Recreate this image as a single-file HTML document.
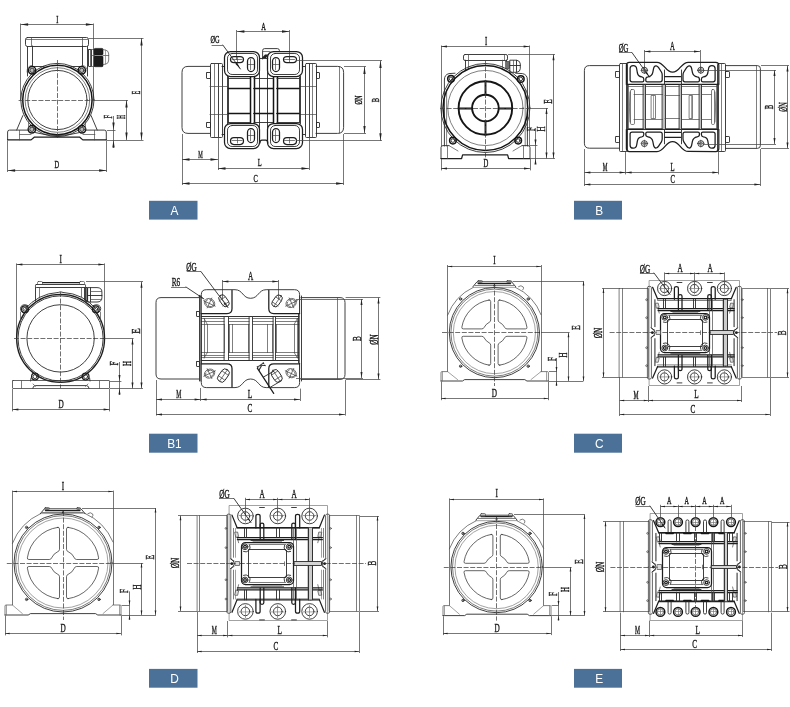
<!DOCTYPE html>
<html><head><meta charset="utf-8"><title>Dimensions</title>
<style>
html,body{margin:0;padding:0;background:#fff;}
body{width:790px;height:707px;overflow:hidden;}
svg{display:block;}
.k{fill:none;stroke:#2a2a2a;stroke-width:0.9;stroke-linecap:round;stroke-linejoin:round}
.K{fill:none;stroke:#151515;stroke-width:1.5;stroke-linecap:round;stroke-linejoin:round}
.w{fill:none;stroke:#333;stroke-width:0.75;stroke-linecap:round;stroke-linejoin:round}
.t{fill:none;stroke:#484848;stroke-width:0.7;stroke-linecap:round;stroke-linejoin:round}
.g{fill:none;stroke:#707070;stroke-width:0.65;stroke-linecap:round;stroke-linejoin:round}
.d{fill:none;stroke:#4a4a4a;stroke-width:0.75}
.c{fill:none;stroke:#404040;stroke-width:0.75;stroke-dasharray:5 1.6}
.af{fill:#222;stroke:none}
.bf{fill:#222;stroke:none}
.gf{fill:#bbb;stroke:#444;stroke-width:0.5}
.m{fill:none;stroke:#1e1e1e;stroke-width:1.25;stroke-linecap:round;stroke-linejoin:round}
.tx{font-family:"Liberation Serif",serif;fill:#1a1a1a;stroke:#1a1a1a;stroke-width:0.4}
</style></head><body>
<svg width="790" height="707" viewBox="0 0 790 707">
<rect width="790" height="707" fill="#fff"/>
<rect x="149" y="200.8" width="48.5" height="18.8" fill="#4b7198"/>
<rect x="574" y="200.8" width="48" height="18.8" fill="#4b7198"/>
<rect x="149" y="433.7" width="48.5" height="19" fill="#4b7198"/>
<rect x="574" y="433.7" width="48" height="19" fill="#4b7198"/>
<rect x="149" y="668.9" width="48.5" height="18.8" fill="#4b7198"/>
<rect x="574" y="668.9" width="48" height="18.8" fill="#4b7198"/>
<g style="filter:grayscale(1)">
<text transform="translate(174.45,210.5) scale(0.9,1)" font-family="'Liberation Sans',sans-serif" font-size="13.2" fill="#fff" text-anchor="middle" dominant-baseline="central">A</text>
<text transform="translate(599.2,210.5) scale(0.9,1)" font-family="'Liberation Sans',sans-serif" font-size="13.2" fill="#fff" text-anchor="middle" dominant-baseline="central">B</text>
<text transform="translate(174.45,443.5) scale(0.9,1)" font-family="'Liberation Sans',sans-serif" font-size="13.2" fill="#fff" text-anchor="middle" dominant-baseline="central">B1</text>
<text transform="translate(599.2,443.5) scale(0.9,1)" font-family="'Liberation Sans',sans-serif" font-size="13.2" fill="#fff" text-anchor="middle" dominant-baseline="central">C</text>
<text transform="translate(174.45,678.6) scale(0.9,1)" font-family="'Liberation Sans',sans-serif" font-size="13.2" fill="#fff" text-anchor="middle" dominant-baseline="central">D</text>
<text transform="translate(599.2,678.6) scale(0.9,1)" font-family="'Liberation Sans',sans-serif" font-size="13.2" fill="#fff" text-anchor="middle" dominant-baseline="central">E</text>
<g id="pA">
<line class="d" x1="20.6" y1="24.5" x2="93.4" y2="24.5" />
<path class="af" d="M20.6,24.5 L28.1,23.35 L28.1,25.65 Z"/>
<path class="af" d="M93.4,24.5 L85.9,25.65 L85.9,23.35 Z"/>
<text class="tx" transform="translate(57.2,19.3) scale(0.58,1)" font-size="11" text-anchor="middle" dominant-baseline="central">I</text>
<line class="d" x1="20.5" y1="23.5" x2="20.5" y2="100" />
<line class="d" x1="93.5" y1="23.5" x2="93.5" y2="100" />
<rect class="k" x="25.5" y="37.5" width="63" height="9" rx="2" />
<line class="t" x1="26" y1="39.5" x2="87.6" y2="39.5" />
<line class="t" x1="31.5" y1="38" x2="31.5" y2="46.4" />
<line class="t" x1="82.5" y1="38" x2="82.5" y2="46.4" />
<line class="k" x1="27.5" y1="46.5" x2="27.5" y2="76" />
<line class="k" x1="87.5" y1="46.5" x2="87.5" y2="76" />
<line class="k" x1="32.5" y1="46" x2="32.5" y2="66" />
<line class="k" x1="82.5" y1="46" x2="82.5" y2="66" />
<line class="k" x1="32" y1="66.5" x2="44" y2="66.5" />
<line class="k" x1="71" y1="66.5" x2="82" y2="66.5" />
<rect class="k" x="88.5" y="49.5" width="3" height="17" rx="0.4" />
<line class="t" x1="90.5" y1="49.4" x2="90.5" y2="66.4" />
<rect class="t" x="91.5" y="49.5" width="3" height="17" rx="0" />
<line class="t" x1="91.6" y1="55.5" x2="94.1" y2="55.5" />
<rect x="94.1" y="48.4" width="8.9" height="6.5" rx="1" fill="#1c1c1c" stroke="#111" stroke-width="0.6"/>
<rect x="94.1" y="56" width="8.9" height="10.7" rx="1" fill="#1c1c1c" stroke="#111" stroke-width="0.6"/>
<path class="t" d="M103,49.6 L106,50.2 Q108.7,51 108.7,54 L108.7,60 Q108.7,63.4 106,64 L103,64.6" />
<line class="t" x1="103" y1="55.5" x2="108.7" y2="55.5" />
<line class="g" x1="105.5" y1="50.2" x2="105.5" y2="64" />
<circle class="k" cx="57.4" cy="100" r="36.6" />
<circle class="K" cx="57.4" cy="100" r="34.7" />
<circle class="t" cx="57.4" cy="100" r="32.3" />
<circle class="k" cx="57.4" cy="100" r="29.6" />
<line class="c" x1="18.6" y1="100.5" x2="94" y2="100.5" />
<line class="d" x1="94" y1="100.5" x2="128" y2="100.5" />
<line class="c" x1="57.5" y1="60" x2="57.5" y2="138" />
<circle class="K" cx="32.1" cy="70.3" r="3.7" />
<circle class="k" cx="32.1" cy="70.3" r="2.2" style="fill:#bbb"/>
<circle class="K" cx="81.8" cy="70.3" r="3.7" />
<circle class="k" cx="81.8" cy="70.3" r="2.2" style="fill:#bbb"/>
<circle class="K" cx="31.9" cy="129.3" r="3.7" />
<circle class="k" cx="31.9" cy="129.3" r="2.2" style="fill:#bbb"/>
<circle class="K" cx="82" cy="129.3" r="3.7" />
<circle class="k" cx="82" cy="129.3" r="2.2" style="fill:#bbb"/>
<path class="t" d="M27,72 Q27,65.5 32,65.5" />
<path class="t" d="M87.4,72 Q87.4,65.5 82,65.5" />
<line class="k" x1="22.8" y1="115.6" x2="16.7" y2="130" />
<line class="t" x1="28.5" y1="121.7" x2="28.5" y2="129.3" />
<line class="k" x1="91.1" y1="115.6" x2="97.2" y2="130" />
<line class="t" x1="85.5" y1="121.7" x2="85.5" y2="129.3" />
<path class="k" d="M7.6,139.9 L7.6,132 Q7.6,130.1 9.6,130.1 L27.6,130.1 M86.4,130.1 L104.3,130.1 Q106.3,130.1 106.3,132 L106.3,139.9" />
<path class="m" d="M7.6,139.9 L31.1,139.9 L34.2,137.2 L79.8,137.2 L82.8,139.9 L106.3,139.9" />
<line class="t" x1="19.5" y1="130.4" x2="19.5" y2="139.9" />
<line class="t" x1="94.5" y1="130.4" x2="94.5" y2="139.9" />
<line class="t" x1="19.7" y1="134.5" x2="31" y2="134.5" />
<line class="t" x1="83" y1="134.5" x2="94.9" y2="134.5" />
<path class="k" d="M35.4,132.6 Q57.4,138.6 79.4,132.6" />
<line class="d" x1="7.5" y1="141" x2="7.5" y2="172" />
<line class="d" x1="106.5" y1="141" x2="106.5" y2="172" />
<line class="d" x1="7.6" y1="170.5" x2="106.6" y2="170.5" />
<path class="af" d="M7.6,170.5 L15.1,169.35 L15.1,171.65 Z"/>
<path class="af" d="M106.6,170.5 L99.1,171.65 L99.1,169.35 Z"/>
<text class="tx" transform="translate(56.8,164.8) scale(0.58,1)" font-size="11" text-anchor="middle" dominant-baseline="central">D</text>
<line class="d" x1="89" y1="38.5" x2="143.5" y2="38.5" />
<line class="d" x1="107" y1="140.5" x2="143.5" y2="140.5" />
<line class="d" x1="107" y1="130.5" x2="115.5" y2="130.5" />
<line class="d" x1="141.5" y1="38" x2="141.5" y2="140" />
<path class="af" d="M141.5,38 L142.65,45.5 L140.35,45.5 Z"/>
<path class="af" d="M141.5,140 L140.35,132.5 L142.65,132.5 Z"/>
<text class="tx" transform="translate(136.6,92.6) rotate(-90) scale(0.5,1)" font-size="11.5" text-anchor="middle" dominant-baseline="central">E</text>
<line class="d" x1="126.5" y1="100" x2="126.5" y2="140" />
<path class="af" d="M126.5,100 L127.65,107.5 L125.35,107.5 Z"/>
<path class="af" d="M126.5,140 L125.35,132.5 L127.65,132.5 Z"/>
<text class="tx" transform="translate(121.4,116.8) rotate(-90) scale(0.5,1)" font-size="11.5" text-anchor="middle" dominant-baseline="central">H</text>
<line class="d" x1="113.5" y1="116" x2="113.5" y2="148" />
<path class="af" d="M113.5,130 L112.35,122.5 L114.65,122.5 Z"/>
<path class="af" d="M113.5,140 L114.65,147.5 L112.35,147.5 Z"/>
<text class="tx" transform="translate(108.2,116.8) rotate(-90) scale(0.55,1)" font-size="11.5" text-anchor="middle" dominant-baseline="central">F</text>
<line class="d" x1="236.9" y1="31.5" x2="289.5" y2="31.5" />
<path class="af" d="M236.9,31.5 L244.4,30.35 L244.4,32.65 Z"/>
<path class="af" d="M289.5,31.5 L282,32.65 L282,30.35 Z"/>
<text class="tx" transform="translate(263.6,26.4) scale(0.58,1)" font-size="11" text-anchor="middle" dominant-baseline="central">A</text>
<line class="d" x1="236.5" y1="30" x2="236.5" y2="60" />
<line class="d" x1="289.5" y1="30" x2="289.5" y2="60" />
<text class="tx" transform="translate(215,39.3) scale(0.58,1)" font-size="11" text-anchor="middle" dominant-baseline="central">ØG</text>
<line class="d" x1="211.6" y1="45.5" x2="222.8" y2="45.5" />
<line class="k" x1="222.8" y1="45" x2="240.4" y2="69" />
<path class="af" d="M240.6,69.2 L235.24,63.8 L237.11,62.45 Z"/>
<path class="k" d="M210,66.4 L188,66.4 Q182,66.4 182,72.4 L182,127.4 Q182,133.4 188,133.4 L210,133.4" />
<path class="k" d="M316,66.4 L337.6,66.4 Q343.6,66.4 343.6,72.4 L343.6,127.4 Q343.6,133.4 337.6,133.4 L316,133.4" />
<line class="t" x1="339.5" y1="66.8" x2="339.5" y2="133" />
<rect class="k" x="210.5" y="63.5" width="12" height="74" rx="1" />
<line class="k" x1="218.5" y1="64" x2="218.5" y2="136.6" />
<line class="k" x1="222" y1="66.5" x2="224.6" y2="66.5" />
<line class="k" x1="222" y1="134.5" x2="224.6" y2="134.5" />
<rect class="k" x="305.5" y="63.5" width="11" height="74" rx="1" />
<line class="k" x1="309.5" y1="64" x2="309.5" y2="136.6" />
<line class="k" x1="302.6" y1="66.5" x2="305" y2="66.5" />
<line class="k" x1="302.6" y1="134.5" x2="305" y2="134.5" />
<line class="t" x1="214.5" y1="64" x2="214.5" y2="137" />
<line class="t" x1="312.5" y1="64" x2="312.5" y2="137" />
<line class="t" x1="210" y1="86.5" x2="227" y2="86.5" />
<line class="t" x1="210" y1="114.5" x2="227" y2="114.5" />
<line class="t" x1="300" y1="86.5" x2="316" y2="86.5" />
<line class="t" x1="300" y1="114.5" x2="316" y2="114.5" />
<rect class="k" x="206.5" y="72.5" width="4" height="6" rx="0.5" />
<rect class="k" x="316.5" y="72.5" width="3" height="6" rx="0.5" />
<rect class="k" x="206.5" y="122.5" width="4" height="5" rx="0.5" />
<rect class="k" x="316.5" y="122.5" width="3" height="5" rx="0.5" />
<rect class="m" x="224.5" y="51.5" width="35" height="25" rx="6" />
<rect class="k" x="227.5" y="53.5" width="30" height="21" rx="4.6" />
<rect class="m" x="224.5" y="123.5" width="35" height="25" rx="6" />
<rect class="k" x="227.5" y="125.5" width="30" height="21" rx="4.6" />
<rect class="m" x="267.5" y="51.5" width="35" height="25" rx="6" />
<rect class="k" x="270.5" y="53.5" width="29" height="21" rx="4.6" />
<rect class="m" x="267.5" y="123.5" width="35" height="25" rx="6" />
<rect class="k" x="270.5" y="125.5" width="29" height="21" rx="4.6" />
<line class="k" x1="259.9" y1="58.5" x2="267.8" y2="58.5" />
<line class="k" x1="259.5" y1="70" x2="259.5" y2="129" />
<line class="k" x1="267.5" y1="70" x2="267.5" y2="129" />
<path class="k" d="M262.6,59 L262.6,50.6 Q262.6,48.6 264.6,48.6 L277.4,48.6 Q279.4,48.6 279.4,50.6 L279.4,51" />
<line class="t" x1="263" y1="51.5" x2="270" y2="51.5" />
<path class="bf" d="M261.8,58 L265,54.4 L268.4,54.4 L266,58 Z" />
<path class="m" d="M259.9,143 Q259.9,140 262,140 L265.6,140 Q267.8,140 267.8,143" />
<g >
<rect class="m" x="230.5" y="56.5" width="13" height="6" rx="3.4" />
<line class="t" x1="232.1" y1="59.5" x2="242.1" y2="59.5" />
<line class="t" x1="237.5" y1="57" x2="237.5" y2="61.8" />
</g>
<g >
<rect class="m" x="247.5" y="57.5" width="7" height="14" rx="3.8" />
<line class="t" x1="250.5" y1="59.3" x2="250.5" y2="69.7" />
<line class="t" x1="248" y1="64.5" x2="253.6" y2="64.5" />
</g>
<g >
<rect class="m" x="272.5" y="57.5" width="7" height="14" rx="3.8" />
<line class="t" x1="275.5" y1="59.3" x2="275.5" y2="69.7" />
<line class="t" x1="273" y1="64.5" x2="278.6" y2="64.5" />
</g>
<g >
<rect class="m" x="283.5" y="56.5" width="13" height="6" rx="3.4" />
<line class="t" x1="284.5" y1="59.5" x2="294.5" y2="59.5" />
<line class="t" x1="289.5" y1="57" x2="289.5" y2="61.8" />
</g>
<g >
<rect class="m" x="230.5" y="137.5" width="13" height="7" rx="3.4" />
<line class="t" x1="232.1" y1="140.5" x2="242.1" y2="140.5" />
<line class="t" x1="237.5" y1="138.2" x2="237.5" y2="143" />
</g>
<g >
<rect class="m" x="247.5" y="128.5" width="7" height="14" rx="3.8" />
<line class="t" x1="250.5" y1="130.3" x2="250.5" y2="140.7" />
<line class="t" x1="248" y1="135.5" x2="253.6" y2="135.5" />
</g>
<g >
<rect class="m" x="272.5" y="128.5" width="7" height="14" rx="3.8" />
<line class="t" x1="275.5" y1="130.3" x2="275.5" y2="140.7" />
<line class="t" x1="273" y1="135.5" x2="278.6" y2="135.5" />
</g>
<g >
<rect class="m" x="283.5" y="137.5" width="13" height="7" rx="3.4" />
<line class="t" x1="284.5" y1="140.5" x2="294.5" y2="140.5" />
<line class="t" x1="289.5" y1="138.2" x2="289.5" y2="143" />
</g>
<line class="k" x1="227.5" y1="76" x2="227.5" y2="123.6" />
<line class="k" x1="300.5" y1="76" x2="300.5" y2="123.6" />
<line class="k" x1="228.5" y1="77" x2="228.5" y2="123" />
<line class="K" x1="250.5" y1="77" x2="250.5" y2="123" />
<line class="K" x1="254.5" y1="77" x2="254.5" y2="123" />
<line class="K" x1="273.5" y1="77" x2="273.5" y2="123" />
<line class="K" x1="277.5" y1="77" x2="277.5" y2="123" />
<line class="k" x1="299.5" y1="77" x2="299.5" y2="123" />
<line class="k" x1="228.4" y1="78.5" x2="250" y2="78.5" />
<line class="k" x1="254" y1="78.5" x2="273" y2="78.5" />
<line class="k" x1="277" y1="78.5" x2="299" y2="78.5" />
<line class="k" x1="228.4" y1="88.5" x2="250" y2="88.5" />
<line class="k" x1="254" y1="88.5" x2="273" y2="88.5" />
<line class="k" x1="277" y1="88.5" x2="299" y2="88.5" />
<line class="k" x1="228.4" y1="113.5" x2="250" y2="113.5" />
<line class="k" x1="254" y1="113.5" x2="273" y2="113.5" />
<line class="k" x1="277" y1="113.5" x2="299" y2="113.5" />
<line class="k" x1="228.4" y1="122.5" x2="250" y2="122.5" />
<line class="k" x1="254" y1="122.5" x2="273" y2="122.5" />
<line class="k" x1="277" y1="122.5" x2="299" y2="122.5" />
<line class="K" x1="228.4" y1="88.5" x2="250" y2="88.5" />
<line class="K" x1="254" y1="88.5" x2="273" y2="88.5" />
<line class="K" x1="277" y1="88.5" x2="299" y2="88.5" />
<line class="K" x1="228.4" y1="113.5" x2="250" y2="113.5" />
<line class="K" x1="254" y1="113.5" x2="273" y2="113.5" />
<line class="K" x1="277" y1="113.5" x2="299" y2="113.5" />
<line class="d" x1="344" y1="66.5" x2="366" y2="66.5" />
<line class="d" x1="344" y1="133.5" x2="366" y2="133.5" />
<line class="d" x1="364.5" y1="66.4" x2="364.5" y2="133.4" />
<path class="af" d="M364.5,66.4 L365.65,73.9 L363.35,73.9 Z"/>
<path class="af" d="M364.5,133.4 L363.35,125.9 L365.65,125.9 Z"/>
<text class="tx" transform="translate(358.6,100) rotate(-90) scale(0.58,1)" font-size="11" text-anchor="middle" dominant-baseline="central">ØN</text>
<line class="d" x1="296" y1="60.5" x2="382" y2="60.5" />
<line class="d" x1="296" y1="140.5" x2="382" y2="140.5" />
<line class="d" x1="380.5" y1="60.6" x2="380.5" y2="140.8" />
<path class="af" d="M380.5,60.6 L381.65,68.1 L379.35,68.1 Z"/>
<path class="af" d="M380.5,140.8 L379.35,133.3 L381.65,133.3 Z"/>
<text class="tx" transform="translate(375,100) rotate(-90) scale(0.58,1)" font-size="11" text-anchor="middle" dominant-baseline="central">B</text>
<line class="d" x1="182.5" y1="134" x2="182.5" y2="185" />
<line class="d" x1="343.5" y1="134" x2="343.5" y2="185" />
<line class="d" x1="218.5" y1="137.5" x2="218.5" y2="170" />
<line class="d" x1="309.5" y1="137.5" x2="309.5" y2="170" />
<line class="d" x1="182" y1="159.5" x2="218" y2="159.5" />
<path class="af" d="M182,159.5 L189.5,158.35 L189.5,160.65 Z"/>
<path class="af" d="M218,159.5 L210.5,160.65 L210.5,158.35 Z"/>
<text class="tx" transform="translate(200.4,154) scale(0.46,1)" font-size="11" text-anchor="middle" dominant-baseline="central">M</text>
<line class="d" x1="218" y1="168.5" x2="309" y2="168.5" />
<path class="af" d="M218,168.5 L225.5,167.35 L225.5,169.65 Z"/>
<path class="af" d="M309,168.5 L301.5,169.65 L301.5,167.35 Z"/>
<text class="tx" transform="translate(259.6,162.6) scale(0.58,1)" font-size="11" text-anchor="middle" dominant-baseline="central">L</text>
<line class="d" x1="182" y1="183.5" x2="343.6" y2="183.5" />
<path class="af" d="M182,183.5 L189.5,182.35 L189.5,184.65 Z"/>
<path class="af" d="M343.6,183.5 L336.1,184.65 L336.1,182.35 Z"/>
<text class="tx" transform="translate(255.6,178) scale(0.58,1)" font-size="11" text-anchor="middle" dominant-baseline="central">C</text>
</g>
<g id="pB">
<line class="d" x1="441" y1="46.5" x2="529.6" y2="46.5" />
<path class="af" d="M441,46.5 L447,45.5 L447,47.5 Z"/>
<path class="af" d="M529.6,46.5 L523.6,47.5 L523.6,45.5 Z"/>
<text class="tx" transform="translate(486,41) scale(0.58,1)" font-size="11.5" text-anchor="middle" dominant-baseline="central">I</text>
<line class="d" x1="441.5" y1="45.5" x2="441.5" y2="146" />
<line class="d" x1="529.5" y1="45.5" x2="529.5" y2="146" />
<rect class="k" x="463.5" y="54.5" width="44" height="6" rx="1.6" />
<line class="t" x1="468.5" y1="54.6" x2="468.5" y2="60" />
<line class="t" x1="504.5" y1="54.6" x2="504.5" y2="60" />
<line class="k" x1="465.5" y1="60.2" x2="465.5" y2="70.4" />
<line class="k" x1="506.5" y1="60.2" x2="506.5" y2="61.6" />
<line class="t" x1="468.5" y1="60.2" x2="468.5" y2="68" />
<line class="t" x1="502.5" y1="60.2" x2="502.5" y2="67.6" />
<rect class="t" x="505.5" y="61.5" width="4" height="7" rx="0.3" style="fill:#ccc"/>
<line class="t" x1="506.5" y1="61.8" x2="506.5" y2="68.4" />
<line class="t" x1="507.5" y1="61.8" x2="507.5" y2="68.4" />
<line class="t" x1="508.5" y1="61.8" x2="508.5" y2="68.4" />
<path class="k" d="M510.2,60.2 L516.8,60.2 Q520.3,61 520.3,64 L520.3,68.6 Q520.3,71.6 516.8,72.3 L510.2,72.3 Z" />
<line class="k" x1="510.2" y1="65.5" x2="520.3" y2="65.5" />
<line class="k" x1="516.5" y1="60.4" x2="516.5" y2="72.2" />
<line class="t" x1="513.5" y1="60.4" x2="513.5" y2="72.2" />
<path class="k" d="M444.4,146 L444.4,80 Q444.4,74.6 449,73.6 L455,73.2 M515.6,73.2 L522.6,73.6 Q527.4,74.6 527.4,80 L527.4,146" />
<path class="t" d="M446.6,146 L446.6,90 M525.2,146 L525.2,90" />
<circle class="k" cx="485.4" cy="108" r="44.5" />
<circle class="K" cx="485.4" cy="108" r="42.4" />
<circle class="t" cx="485.4" cy="108" r="37.6" />
<circle class="K" cx="485.4" cy="108" r="26.8" style="stroke-width:1.9"/>
<circle class="K" cx="485.4" cy="108" r="13.3" style="stroke-width:1.9"/>
<line class="K" x1="458.6" y1="108.5" x2="472.1" y2="108.5" style="stroke-width:1.9"/>
<line class="K" x1="498.7" y1="108.5" x2="512.2" y2="108.5" style="stroke-width:1.9"/>
<line class="K" x1="485.5" y1="81.2" x2="485.5" y2="94.7" style="stroke-width:1.9"/>
<line class="K" x1="485.5" y1="121.3" x2="485.5" y2="134.8" style="stroke-width:1.9"/>
<line class="c" x1="440" y1="108.5" x2="530" y2="108.5" />
<line class="d" x1="530" y1="108.5" x2="548" y2="108.5" />
<line class="c" x1="485.5" y1="60" x2="485.5" y2="158" />
<circle class="K" cx="451" cy="78.8" r="3.3" />
<circle class="k" cx="451" cy="78.8" r="1.8" />
<circle class="K" cx="520.8" cy="79" r="3.3" />
<circle class="k" cx="520.8" cy="79" r="1.8" />
<circle class="K" cx="452.9" cy="140.6" r="3.3" />
<circle class="k" cx="452.9" cy="140.6" r="1.8" />
<circle class="K" cx="518.2" cy="140.6" r="3.3" />
<circle class="k" cx="518.2" cy="140.6" r="1.8" />
<path class="k" d="M441,158.5 L441,147.6 Q441,145.6 443,145.6 L449,145.6 M522,145.6 L528,145.6 Q530,145.6 530,147.6 L530,158.5" />
<path class="m" d="M441,158.5 L461.6,158.5 L462.6,154.8 L507.6,154.8 L508.6,158.5 L530,158.5" />
<line class="t" x1="447.5" y1="146" x2="447.5" y2="158.5" />
<line class="t" x1="523.5" y1="146" x2="523.5" y2="158.5" />
<line class="t" x1="449" y1="145.6" x2="458" y2="151" />
<line class="t" x1="522" y1="145.6" x2="513" y2="151" />
<line class="d" x1="441.5" y1="159" x2="441.5" y2="170.4" />
<line class="d" x1="530.5" y1="159" x2="530.5" y2="170.4" />
<line class="d" x1="441" y1="168.5" x2="530" y2="168.5" />
<path class="af" d="M441,168.5 L447,167.5 L447,169.5 Z"/>
<path class="af" d="M530,168.5 L524,169.5 L524,167.5 Z"/>
<text class="tx" transform="translate(486,163.4) scale(0.58,1)" font-size="11.5" text-anchor="middle" dominant-baseline="central">D</text>
<line class="d" x1="508" y1="54.5" x2="555" y2="54.5" />
<line class="d" x1="530.6" y1="158.5" x2="555" y2="158.5" />
<line class="d" x1="530" y1="145.5" x2="537.4" y2="145.5" />
<line class="d" x1="553.5" y1="54.3" x2="553.5" y2="158.5" />
<path class="af" d="M553.5,54.3 L554.5,60.3 L552.5,60.3 Z"/>
<path class="af" d="M553.5,158.5 L552.5,152.5 L554.5,152.5 Z"/>
<text class="tx" transform="translate(548.2,101.4) rotate(-90) scale(0.64,1)" font-size="11.5" text-anchor="middle" dominant-baseline="central">E</text>
<line class="d" x1="546.5" y1="108" x2="546.5" y2="158.5" />
<path class="af" d="M546.5,108 L547.5,114 L545.5,114 Z"/>
<path class="af" d="M546.5,158.5 L545.5,152.5 L547.5,152.5 Z"/>
<text class="tx" transform="translate(541.2,129) rotate(-90) scale(0.62,1)" font-size="11.5" text-anchor="middle" dominant-baseline="central">H</text>
<line class="d" x1="535.5" y1="128" x2="535.5" y2="163" />
<path class="af" d="M535.5,145.6 L534.5,139.6 L536.5,139.6 Z"/>
<path class="af" d="M535.5,158.5 L536.5,164.5 L534.5,164.5 Z"/>
<text class="tx" transform="translate(531.2,129) rotate(-90) scale(0.68,1)" font-size="11.5" text-anchor="middle" dominant-baseline="central">F</text>
<line class="d" x1="644.4" y1="51.5" x2="700" y2="51.5" />
<path class="af" d="M644.4,51.5 L650.4,50.5 L650.4,52.5 Z"/>
<path class="af" d="M700,51.5 L694,52.5 L694,50.5 Z"/>
<text class="tx" transform="translate(672.4,46.6) scale(0.58,1)" font-size="11.5" text-anchor="middle" dominant-baseline="central">A</text>
<line class="d" x1="644.5" y1="50" x2="644.5" y2="70" />
<line class="d" x1="700.5" y1="50" x2="700.5" y2="70" />
<text class="tx" transform="translate(623.6,48.6) scale(0.58,1)" font-size="11.5" text-anchor="middle" dominant-baseline="central">ØG</text>
<line class="d" x1="619" y1="52.5" x2="632" y2="52.5" />
<line class="k" x1="632" y1="52.6" x2="649.4" y2="77" />
<path class="af" d="M649.4,77 L645.11,72.72 L646.73,71.56 Z"/>
<path class="k" d="M619,65.6 L589.4,65.6 Q584.4,65.6 584.4,70.6 L584.4,143.2 Q584.4,148.2 589.4,148.2 L619,148.2" />
<path class="k" d="M725.6,65.6 L757.4,65.6 Q760.4,65.6 760.4,68.6 L760.4,145.4 Q760.4,148.4 757.4,148.4 L725.6,148.4" />
<line class="t" x1="756.5" y1="66" x2="756.5" y2="148" />
<rect class="k" x="619.5" y="63.5" width="8" height="88" rx="1" />
<line class="t" x1="622.5" y1="63.4" x2="622.5" y2="150.6" />
<rect class="k" x="717.5" y="63.5" width="8" height="88" rx="1" />
<line class="t" x1="721.5" y1="63.4" x2="721.5" y2="150.6" />
<rect class="k" x="615.5" y="71.5" width="4" height="6" rx="0.6" />
<rect class="k" x="725.5" y="71.5" width="4" height="6" rx="0.6" />
<rect class="k" x="615.5" y="136.5" width="4" height="6" rx="0.6" />
<rect class="k" x="725.5" y="136.5" width="4" height="6" rx="0.6" />
<path class="m" d="M626.4,84.4 L626.4,65.3 Q626.4,62.3 629.4,62.3 L657,62.3 C664.5,62.3 665,72.2 672.6,72.2 C680.2,72.2 680.7,62.3 688.2,62.3 L715.8,62.3 Q718.8,62.3 718.8,65.3 L718.8,84.4 Z" />
<line class="m" x1="664.6" y1="76.5" x2="680.6" y2="76.5" />
<line class="m" x1="664.6" y1="81.5" x2="680.6" y2="81.5" />
<line class="k" x1="664.5" y1="70" x2="664.5" y2="84" />
<line class="k" x1="681.5" y1="70" x2="681.5" y2="84" />
<path class="m" d="M630.1,79.8 L630.1,68.6 Q630.1,65.6 633.2,65.6 Q636.4,65.6 636.7,69 L637.4,73 Q638.2,76.6 641.8,76.9 Q643.8,77.2 643.8,79.2 L643.8,80.4 Q643.8,81.8 642.4,81.8 L632.1,81.8 Q630.1,81.8 630.1,79.8 Z" />
<path class="m" d="M645.8,80.4 L645.8,79.2 Q645.8,77.2 648,76.9 Q652,76.2 652.8,72.4 L653.6,68.4 Q654.2,65.6 656.2,65.8 Q657.6,66 658.6,67.6 L661.4,72 Q662.2,73.2 662.2,75 L662.2,79.8 Q662.2,81.8 660.2,81.8 L647.2,81.8 Q645.8,81.8 645.8,80.4 Z" />
<circle class="k" cx="644.4" cy="70.2" r="3" />
<circle class="t" cx="644.4" cy="70.2" r="1.5" />
<line class="t" x1="641" y1="70.5" x2="647.8" y2="70.5" />
<line class="t" x1="644.5" y1="66.8" x2="644.5" y2="73.6" />
<g transform="translate(1345.2,0) scale(-1,1)">
<path class="m" d="M630.1,79.8 L630.1,68.6 Q630.1,65.6 633.2,65.6 Q636.4,65.6 636.7,69 L637.4,73 Q638.2,76.6 641.8,76.9 Q643.8,77.2 643.8,79.2 L643.8,80.4 Q643.8,81.8 642.4,81.8 L632.1,81.8 Q630.1,81.8 630.1,79.8 Z" />
<path class="m" d="M645.8,80.4 L645.8,79.2 Q645.8,77.2 648,76.9 Q652,76.2 652.8,72.4 L653.6,68.4 Q654.2,65.6 656.2,65.8 Q657.6,66 658.6,67.6 L661.4,72 Q662.2,73.2 662.2,75 L662.2,79.8 Q662.2,81.8 660.2,81.8 L647.2,81.8 Q645.8,81.8 645.8,80.4 Z" />
<circle class="k" cx="644.4" cy="70.2" r="3" />
<circle class="t" cx="644.4" cy="70.2" r="1.5" />
<line class="t" x1="641" y1="70.5" x2="647.8" y2="70.5" />
<line class="t" x1="644.5" y1="66.8" x2="644.5" y2="73.6" />
</g>
<g transform="translate(0,213.8) scale(1,-1)">
<path class="m" d="M626.4,84.4 L626.4,65.3 Q626.4,62.3 629.4,62.3 L657,62.3 C664.5,62.3 665,72.2 672.6,72.2 C680.2,72.2 680.7,62.3 688.2,62.3 L715.8,62.3 Q718.8,62.3 718.8,65.3 L718.8,84.4 Z" />
<line class="m" x1="664.6" y1="76.5" x2="680.6" y2="76.5" />
<line class="m" x1="664.6" y1="81.5" x2="680.6" y2="81.5" />
<line class="k" x1="664.5" y1="70" x2="664.5" y2="84" />
<line class="k" x1="681.5" y1="70" x2="681.5" y2="84" />
<path class="m" d="M630.1,79.8 L630.1,68.6 Q630.1,65.6 633.2,65.6 Q636.4,65.6 636.7,69 L637.4,73 Q638.2,76.6 641.8,76.9 Q643.8,77.2 643.8,79.2 L643.8,80.4 Q643.8,81.8 642.4,81.8 L632.1,81.8 Q630.1,81.8 630.1,79.8 Z" />
<path class="m" d="M645.8,80.4 L645.8,79.2 Q645.8,77.2 648,76.9 Q652,76.2 652.8,72.4 L653.6,68.4 Q654.2,65.6 656.2,65.8 Q657.6,66 658.6,67.6 L661.4,72 Q662.2,73.2 662.2,75 L662.2,79.8 Q662.2,81.8 660.2,81.8 L647.2,81.8 Q645.8,81.8 645.8,80.4 Z" />
<circle class="k" cx="644.4" cy="70.2" r="3" />
<circle class="t" cx="644.4" cy="70.2" r="1.5" />
<line class="t" x1="641" y1="70.5" x2="647.8" y2="70.5" />
<line class="t" x1="644.5" y1="66.8" x2="644.5" y2="73.6" />
<g transform="translate(1345.2,0) scale(-1,1)">
<path class="m" d="M630.1,79.8 L630.1,68.6 Q630.1,65.6 633.2,65.6 Q636.4,65.6 636.7,69 L637.4,73 Q638.2,76.6 641.8,76.9 Q643.8,77.2 643.8,79.2 L643.8,80.4 Q643.8,81.8 642.4,81.8 L632.1,81.8 Q630.1,81.8 630.1,79.8 Z" />
<path class="m" d="M645.8,80.4 L645.8,79.2 Q645.8,77.2 648,76.9 Q652,76.2 652.8,72.4 L653.6,68.4 Q654.2,65.6 656.2,65.8 Q657.6,66 658.6,67.6 L661.4,72 Q662.2,73.2 662.2,75 L662.2,79.8 Q662.2,81.8 660.2,81.8 L647.2,81.8 Q645.8,81.8 645.8,80.4 Z" />
<circle class="k" cx="644.4" cy="70.2" r="3" />
<circle class="t" cx="644.4" cy="70.2" r="1.5" />
<line class="t" x1="641" y1="70.5" x2="647.8" y2="70.5" />
<line class="t" x1="644.5" y1="66.8" x2="644.5" y2="73.6" />
</g>
</g>
<line class="k" x1="626.5" y1="84" x2="626.5" y2="130" />
<line class="k" x1="718.5" y1="84" x2="718.5" y2="130" />
<line class="t" x1="628.5" y1="85" x2="628.5" y2="129" />
<line class="t" x1="716.5" y1="85" x2="716.5" y2="129" />
<line class="t" x1="627" y1="86.5" x2="718" y2="86.5" />
<line class="t" x1="627" y1="128.5" x2="718" y2="128.5" />
<rect class="k" x="643.5" y="84.5" width="2" height="45" rx="0" style="fill:#bdbdbd"/>
<rect class="k" x="662.5" y="84.5" width="3" height="45" rx="0" style="fill:#bdbdbd"/>
<rect class="k" x="679.5" y="84.5" width="2" height="45" rx="0" style="fill:#bdbdbd"/>
<rect class="k" x="699.5" y="84.5" width="2" height="45" rx="0" style="fill:#bdbdbd"/>
<rect class="t" x="630.5" y="89.5" width="4" height="35" rx="1.2" />
<rect class="t" x="711.5" y="89.5" width="3" height="35" rx="1.2" />
<path class="t" d="M630,92 Q628.8,107 630,122" />
<path class="t" d="M715,92 Q716.2,107 715,122" />
<line class="t" x1="634" y1="94.5" x2="643.7" y2="94.5" />
<line class="t" x1="634" y1="119.5" x2="643.7" y2="119.5" />
<line class="t" x1="645.9" y1="94.5" x2="662.6" y2="94.5" />
<line class="t" x1="645.9" y1="119.5" x2="662.6" y2="119.5" />
<line class="t" x1="681.8" y1="94.5" x2="699.1" y2="94.5" />
<line class="t" x1="681.8" y1="119.5" x2="699.1" y2="119.5" />
<line class="t" x1="701.4" y1="94.5" x2="711.1" y2="94.5" />
<line class="t" x1="701.4" y1="119.5" x2="711.1" y2="119.5" />
<line class="t" x1="665" y1="95.5" x2="679.6" y2="95.5" />
<line class="t" x1="665" y1="118.5" x2="679.6" y2="118.5" />
<rect class="t" x="651.5" y="95.5" width="4" height="23" rx="0" />
<line class="g" x1="653.5" y1="95.3" x2="653.5" y2="118.6" />
<rect class="t" x="689.5" y="95.5" width="3" height="23" rx="0" />
<line class="g" x1="691.5" y1="95.3" x2="691.5" y2="118.6" />
<line class="d" x1="703" y1="70.5" x2="776" y2="70.5" />
<line class="d" x1="703" y1="144.5" x2="776" y2="144.5" />
<line class="d" x1="774.5" y1="70" x2="774.5" y2="144" />
<path class="af" d="M774.5,70 L775.5,76 L773.5,76 Z"/>
<path class="af" d="M774.5,144 L773.5,138 L775.5,138 Z"/>
<text class="tx" transform="translate(769.8,107) rotate(-90) scale(0.58,1)" font-size="11.5" text-anchor="middle" dominant-baseline="central">B</text>
<line class="d" x1="761" y1="65.5" x2="789" y2="65.5" />
<line class="d" x1="761" y1="148.5" x2="789" y2="148.5" />
<line class="d" x1="787.5" y1="65.6" x2="787.5" y2="148.4" />
<path class="af" d="M787.5,65.6 L788.5,71.6 L786.5,71.6 Z"/>
<path class="af" d="M787.5,148.4 L786.5,142.4 L788.5,142.4 Z"/>
<text class="tx" transform="translate(783.4,107) rotate(-90) scale(0.58,1)" font-size="11.5" text-anchor="middle" dominant-baseline="central">ØN</text>
<line class="d" x1="584.5" y1="149" x2="584.5" y2="186" />
<line class="d" x1="760.5" y1="149" x2="760.5" y2="186" />
<line class="d" x1="625.5" y1="151.6" x2="625.5" y2="174.4" />
<line class="d" x1="718.5" y1="151.6" x2="718.5" y2="174.4" />
<line class="d" x1="584.4" y1="172.5" x2="625.6" y2="172.5" />
<path class="af" d="M584.4,172.5 L590.4,171.5 L590.4,173.5 Z"/>
<path class="af" d="M625.6,172.5 L619.6,173.5 L619.6,171.5 Z"/>
<text class="tx" transform="translate(605,167.4) scale(0.46,1)" font-size="11.5" text-anchor="middle" dominant-baseline="central">M</text>
<line class="d" x1="625.6" y1="172.5" x2="718.4" y2="172.5" />
<path class="af" d="M625.6,172.5 L631.6,171.5 L631.6,173.5 Z"/>
<path class="af" d="M718.4,172.5 L712.4,173.5 L712.4,171.5 Z"/>
<text class="tx" transform="translate(672.6,167.6) scale(0.58,1)" font-size="11.5" text-anchor="middle" dominant-baseline="central">L</text>
<line class="d" x1="584.4" y1="184.5" x2="760.4" y2="184.5" />
<path class="af" d="M584.4,184.5 L590.4,183.5 L590.4,185.5 Z"/>
<path class="af" d="M760.4,184.5 L754.4,185.5 L754.4,183.5 Z"/>
<text class="tx" transform="translate(672.6,179.4) scale(0.58,1)" font-size="11.5" text-anchor="middle" dominant-baseline="central">C</text>
</g>
<g id="pB1">
<line class="d" x1="16.4" y1="264.5" x2="104.4" y2="264.5" />
<path class="af" d="M16.4,264.5 L22.4,263.5 L22.4,265.5 Z"/>
<path class="af" d="M104.4,264.5 L98.4,265.5 L98.4,263.5 Z"/>
<text class="tx" transform="translate(60.6,258.6) scale(0.58,1)" font-size="12.5" text-anchor="middle" dominant-baseline="central">I</text>
<line class="d" x1="16.5" y1="263.4" x2="16.5" y2="338" />
<line class="d" x1="104.5" y1="263.4" x2="104.5" y2="338" />
<rect class="k" x="35.5" y="284.5" width="50" height="3" rx="0.8" />
<rect class="t" x="37.5" y="281.5" width="5" height="3" rx="1" />
<rect class="t" x="79.5" y="281.5" width="5" height="3" rx="1" />
<line class="m" x1="42.7" y1="282.5" x2="79.4" y2="282.5" />
<line class="k" x1="35.5" y1="287.5" x2="35.5" y2="301" />
<line class="k" x1="84.5" y1="287.5" x2="84.5" y2="300" />
<line class="t" x1="39.5" y1="287.5" x2="39.5" y2="298" />
<line class="t" x1="81.5" y1="287.5" x2="81.5" y2="297" />
<rect class="k" x="85.5" y="287.5" width="2" height="14" rx="0.4" />
<line class="t" x1="86.5" y1="288" x2="86.5" y2="301" />
<path class="k" d="M88,287.6 L97,287.6 Q101.9,287.6 101.9,292 L101.9,297.6 Q101.9,302 97,302 L88,302 Z" />
<line class="k" x1="90.5" y1="287.6" x2="90.5" y2="302" />
<line class="k" x1="88" y1="295.5" x2="101.9" y2="295.5" />
<line class="t" x1="90.4" y1="291.5" x2="101.5" y2="291.5" />
<line class="t" x1="90.4" y1="299.5" x2="101.5" y2="299.5" />
<circle class="m" cx="60.6" cy="338.4" r="44" />
<circle class="k" cx="60.6" cy="338.4" r="42.6" />
<circle class="k" cx="60.6" cy="338.4" r="33.7" />
<path class="k" d="M24.85,309.45 A46,46 0 0 1 58.19,292.46 L60.6,291.8 L63.01,292.46 A46,46 0 0 1 96.35,309.45" />
<path class="k" d="M24.4,313.6 Q19,311 21,306.6 Q23.4,303.4 28,305.6" />
<path class="k" d="M96.8,313.6 Q102.2,311 100.2,306.6 Q97.8,303.4 93.2,305.6" />
<line class="t" x1="20.5" y1="312" x2="20.5" y2="322" />
<line class="t" x1="100.5" y1="312" x2="100.5" y2="322" />
<line class="c" x1="14" y1="338.5" x2="105" y2="338.5" />
<line class="d" x1="105" y1="338.5" x2="133.6" y2="338.5" />
<line class="c" x1="60.5" y1="292" x2="60.5" y2="388" />
<circle class="m" cx="25" cy="309.2" r="3.4" />
<circle class="k" cx="25" cy="309.2" r="2" />
<circle class="m" cx="95.8" cy="309.2" r="3.4" />
<circle class="k" cx="95.8" cy="309.2" r="2" />
<circle class="m" cx="35" cy="376.6" r="3.4" />
<circle class="k" cx="35" cy="376.6" r="2" />
<circle class="m" cx="85.6" cy="376.6" r="3.4" />
<circle class="k" cx="85.6" cy="376.6" r="2" />
<path class="k" d="M31,378 L30.6,381 M89.6,378 L90,381" />
<rect class="w" x="12.5" y="380.5" width="97" height="8" rx="0.5" />
<line class="t" x1="21.5" y1="381" x2="21.5" y2="388.2" />
<line class="t" x1="99.5" y1="381" x2="99.5" y2="388.2" />
<path class="k" d="M32.8,388.2 Q33,385.8 35.4,385.6 L86.4,385.6 Q88.8,385.8 89,388.2" />
<path class="t" d="M33,384 Q34.5,385.5 35.6,386.4 M88,384 Q86.5,385.5 85.4,386.4" />
<line class="d" x1="12.5" y1="389" x2="12.5" y2="411.4" />
<line class="d" x1="109.5" y1="389" x2="109.5" y2="411.4" />
<line class="d" x1="12.4" y1="409.5" x2="109.6" y2="409.5" />
<path class="af" d="M12.4,409.5 L18.4,408.5 L18.4,410.5 Z"/>
<path class="af" d="M109.6,409.5 L103.6,410.5 L103.6,408.5 Z"/>
<text class="tx" transform="translate(61,403.8) scale(0.58,1)" font-size="12.5" text-anchor="middle" dominant-baseline="central">D</text>
<line class="d" x1="86" y1="281.5" x2="143" y2="281.5" />
<line class="d" x1="110" y1="388.5" x2="143" y2="388.5" />
<line class="d" x1="110" y1="381.5" x2="121.4" y2="381.5" />
<line class="d" x1="141.5" y1="281.8" x2="141.5" y2="388.4" />
<path class="af" d="M141.5,281.8 L142.5,287.8 L140.5,287.8 Z"/>
<path class="af" d="M141.5,388.4 L140.5,382.4 L142.5,382.4 Z"/>
<text class="tx" transform="translate(135.8,331) rotate(-90) scale(0.72,1)" font-size="12.5" text-anchor="middle" dominant-baseline="central">E</text>
<line class="d" x1="132.5" y1="338.4" x2="132.5" y2="388.4" />
<path class="af" d="M132.5,338.4 L133.5,344.4 L131.5,344.4 Z"/>
<path class="af" d="M132.5,388.4 L131.5,382.4 L133.5,382.4 Z"/>
<text class="tx" transform="translate(127,363.4) rotate(-90) scale(0.55,1)" font-size="12.5" text-anchor="middle" dominant-baseline="central">H</text>
<line class="d" x1="119.5" y1="362" x2="119.5" y2="395" />
<path class="af" d="M119.5,381 L118.5,375 L120.5,375 Z"/>
<path class="af" d="M119.5,388.4 L120.5,394.4 L118.5,394.4 Z"/>
<text class="tx" transform="translate(114.2,363.4) rotate(-90) scale(0.6,1)" font-size="12.5" text-anchor="middle" dominant-baseline="central">F</text>
<line class="d" x1="222.4" y1="281.5" x2="278.4" y2="281.5" />
<path class="af" d="M222.4,281.5 L228.4,280.5 L228.4,282.5 Z"/>
<path class="af" d="M278.4,281.5 L272.4,282.5 L272.4,280.5 Z"/>
<text class="tx" transform="translate(250.6,275.8) scale(0.58,1)" font-size="12.5" text-anchor="middle" dominant-baseline="central">A</text>
<line class="d" x1="222.5" y1="280" x2="222.5" y2="299" />
<line class="d" x1="278.5" y1="280" x2="278.5" y2="299" />
<text class="tx" transform="translate(191.6,266.6) scale(0.58,1)" font-size="12.5" text-anchor="middle" dominant-baseline="central">ØG</text>
<line class="d" x1="187" y1="271.5" x2="201" y2="271.5" />
<line class="k" x1="201" y1="271.6" x2="228" y2="307.6" />
<path class="af" d="M228,307.6 L223.6,303.4 L225.2,302.2 Z"/>
<text class="tx" transform="translate(176,281.6) scale(0.58,1)" font-size="12.5" text-anchor="middle" dominant-baseline="central">R6</text>
<line class="d" x1="171" y1="287.5" x2="186" y2="287.5" />
<line class="k" x1="186" y1="287" x2="204" y2="299" />
<path class="af" d="M204,299 L198.47,296.53 L199.57,294.87 Z"/>
<path class="k" d="M199,297.6 L161,297.6 Q156,297.6 156,302.6 L156,374 Q156,379 161,379 L199,379" />
<path class="k" d="M301,297.6 L340,297.6 Q345,297.6 345,302.6 L345,374.4 Q345,379.4 340,379.4 L301,379.4" />
<line class="t" x1="337.5" y1="298" x2="337.5" y2="379" />
<line class="k" x1="199.5" y1="296" x2="199.5" y2="381" />
<line class="t" x1="200.5" y1="296" x2="200.5" y2="381" />
<line class="k" x1="301.5" y1="296" x2="301.5" y2="381" />
<line class="t" x1="299.5" y1="296" x2="299.5" y2="381" />
<rect class="k" x="196.5" y="311.5" width="3" height="5" rx="0.4" />
<rect class="k" x="196.5" y="361.5" width="3" height="5" rx="0.4" />
<path class="k" d="M201.3,313.7 L201.3,294.7 Q201.3,289.7 206.3,289.7 L235,289.7 C243,289.7 242.6,298.3 250.6,298.3 C258.6,298.3 258.2,289.7 266.2,289.7 L294.6,289.7 Q299.6,289.7 299.6,294.7 L299.6,313.7" />
<path class="m" d="M232,290.3 L232,308.7 Q232,313.5 227,313.5 L201.3,313.5" />
<path class="m" d="M268.8,290.3 L268.8,308.7 Q268.8,313.5 273.8,313.5 L299.6,313.5" />
<path class="k" d="M201.3,363.6 L201.3,382.6 Q201.3,387.6 206.3,387.6 L235,387.6 C243,387.6 242.6,379 250.6,379 C258.6,379 258.2,387.6 266.2,387.6 L294.6,387.6 Q299.6,387.6 299.6,382.6 L299.6,363.6" />
<path class="m" d="M232,387 L232,368.6 Q232,363.8 227,363.8 L201.3,363.8" />
<path class="m" d="M268.8,387 L268.8,368.6 Q268.8,363.8 273.8,363.8 L299.6,363.8" />
<g transform="rotate(25 209.6 303)">
<ellipse class="t" cx="209.6" cy="303" rx="5.4" ry="4.4"/>
<ellipse class="t" cx="209.6" cy="303" rx="4.2" ry="3.3" stroke-dasharray="6 2"/>
<line class="t" x1="203.2" y1="303.5" x2="216" y2="303.5" />
<line class="t" x1="209.5" y1="297.6" x2="209.5" y2="308.4" />
</g>
<g transform="rotate(-25 291.2 303)">
<ellipse class="t" cx="291.2" cy="303" rx="5.4" ry="4.4"/>
<ellipse class="t" cx="291.2" cy="303" rx="4.2" ry="3.3" stroke-dasharray="6 2"/>
<line class="t" x1="284.8" y1="303.5" x2="297.6" y2="303.5" />
<line class="t" x1="291.5" y1="297.6" x2="291.5" y2="308.4" />
</g>
<g transform="rotate(-25 209.6 373.6)">
<ellipse class="t" cx="209.6" cy="373.6" rx="5.4" ry="4.4"/>
<ellipse class="t" cx="209.6" cy="373.6" rx="4.2" ry="3.3" stroke-dasharray="6 2"/>
<line class="t" x1="203.2" y1="373.5" x2="216" y2="373.5" />
<line class="t" x1="209.5" y1="368.2" x2="209.5" y2="379" />
</g>
<g transform="rotate(25 291.2 373.2)">
<ellipse class="t" cx="291.2" cy="373.2" rx="5.4" ry="4.4"/>
<ellipse class="t" cx="291.2" cy="373.2" rx="4.2" ry="3.3" stroke-dasharray="6 2"/>
<line class="t" x1="284.8" y1="373.5" x2="297.6" y2="373.5" />
<line class="t" x1="291.5" y1="367.8" x2="291.5" y2="378.6" />
</g>
<g transform="rotate(-35 223.6 301)">
<rect class="k" x="220.5" y="294.5" width="7" height="13" rx="3.6" />
<line class="t" x1="220" y1="298.5" x2="227.2" y2="298.5" />
<line class="t" x1="220" y1="304.5" x2="227.2" y2="304.5" />
<line class="t" x1="223.5" y1="294.4" x2="223.5" y2="307.6" />
</g>
<g transform="rotate(35 277.2 301)">
<rect class="k" x="273.5" y="294.5" width="7" height="13" rx="3.6" />
<line class="t" x1="273.6" y1="298.5" x2="280.8" y2="298.5" />
<line class="t" x1="273.6" y1="304.5" x2="280.8" y2="304.5" />
<line class="t" x1="277.5" y1="294.4" x2="277.5" y2="307.6" />
</g>
<g transform="rotate(35 223.4 375.4)">
<rect class="k" x="219.5" y="368.5" width="8" height="14" rx="3.6" />
<line class="t" x1="219.8" y1="372.5" x2="227" y2="372.5" />
<line class="t" x1="219.8" y1="378.5" x2="227" y2="378.5" />
<line class="t" x1="223.5" y1="368.8" x2="223.5" y2="382" />
</g>
<g transform="rotate(-33 276.4 375.7)">
<rect class="k" x="272.5" y="369.5" width="8" height="13" rx="3.6" />
<line class="t" x1="272.8" y1="372.5" x2="280" y2="372.5" />
<line class="t" x1="272.8" y1="378.5" x2="280" y2="378.5" />
<line class="t" x1="276.5" y1="369.1" x2="276.5" y2="382.3" />
</g>
<line class="m" x1="257.3" y1="368.2" x2="273.7" y2="393.4" />
<line class="k" x1="263.5" y1="377" x2="273.7" y2="371.3" />
<line class="k" x1="269.7" y1="387.6" x2="281.6" y2="380.6" />
<text class="tx" transform="translate(261.7,366) rotate(56) scale(0.62,1)" font-size="11.5" text-anchor="middle" dominant-baseline="central">K</text>
<line class="t" x1="201.3" y1="316.5" x2="298.8" y2="316.5" />
<line class="t" x1="201.3" y1="318.5" x2="298.8" y2="318.5" />
<line class="t" x1="201.3" y1="321.5" x2="298.8" y2="321.5" />
<line class="t" x1="201.3" y1="324.5" x2="298.8" y2="324.5" />
<line class="t" x1="201.3" y1="352.5" x2="298.8" y2="352.5" />
<line class="t" x1="201.3" y1="355.5" x2="298.8" y2="355.5" />
<line class="t" x1="201.3" y1="357.5" x2="298.8" y2="357.5" />
<line class="t" x1="201.3" y1="360.5" x2="298.8" y2="360.5" />
<line class="k" x1="201.3" y1="316.5" x2="298.8" y2="316.5" />
<line class="k" x1="201.3" y1="360.5" x2="298.8" y2="360.5" />
<rect class="k" x="224.5" y="316.5" width="4" height="44" rx="0" style="fill:#fff"/>
<rect class="k" x="249.5" y="316.5" width="3" height="44" rx="0" style="fill:#fff"/>
<rect class="k" x="273.5" y="316.5" width="2" height="44" rx="0" style="fill:#fff"/>
<line class="k" x1="201.5" y1="314" x2="201.5" y2="363" />
<line class="k" x1="298.5" y1="314" x2="298.5" y2="363" />
<line class="t" x1="204.5" y1="318.4" x2="204.5" y2="357.9" />
<line class="t" x1="207.5" y1="324.4" x2="207.5" y2="352.6" />
<line class="t" x1="294.5" y1="324.4" x2="294.5" y2="352.6" />
<line class="t" x1="297.5" y1="318.4" x2="297.5" y2="357.9" />
<line class="t" x1="229.5" y1="324.4" x2="229.5" y2="352.6" />
<line class="t" x1="232.5" y1="324.4" x2="232.5" y2="352.6" />
<line class="t" x1="248.5" y1="324.4" x2="248.5" y2="352.6" />
<line class="t" x1="252.5" y1="324.4" x2="252.5" y2="352.6" />
<line class="t" x1="267.5" y1="324.4" x2="267.5" y2="352.6" />
<line class="t" x1="272.5" y1="324.4" x2="272.5" y2="352.6" />
<line class="t" x1="276.5" y1="324.4" x2="276.5" y2="352.6" />
<line class="t" x1="224.5" y1="324.4" x2="224.5" y2="352.6" />
<line class="t" x1="204" y1="318.4" x2="207.3" y2="324.4" />
<line class="t" x1="204" y1="357.9" x2="207.3" y2="352.6" />
<line class="t" x1="297.4" y1="318.4" x2="294.2" y2="324.4" />
<line class="t" x1="297.4" y1="357.9" x2="294.2" y2="352.6" />
<line class="d" x1="296" y1="299.5" x2="363" y2="299.5" />
<line class="d" x1="296" y1="378.5" x2="363" y2="378.5" />
<line class="d" x1="361.5" y1="299" x2="361.5" y2="378" />
<path class="af" d="M361.5,299 L362.5,305 L360.5,305 Z"/>
<path class="af" d="M361.5,378 L360.5,372 L362.5,372 Z"/>
<text class="tx" transform="translate(356.6,338.6) rotate(-90) scale(0.58,1)" font-size="12.5" text-anchor="middle" dominant-baseline="central">B</text>
<line class="d" x1="345.6" y1="297.5" x2="380.4" y2="297.5" />
<line class="d" x1="345.6" y1="379.5" x2="380.4" y2="379.5" />
<line class="d" x1="378.5" y1="297.6" x2="378.5" y2="379.4" />
<path class="af" d="M378.5,297.6 L379.5,303.6 L377.5,303.6 Z"/>
<path class="af" d="M378.5,379.4 L377.5,373.4 L379.5,373.4 Z"/>
<text class="tx" transform="translate(373.6,339.6) rotate(-90) scale(0.58,1)" font-size="12.5" text-anchor="middle" dominant-baseline="central">ØN</text>
<line class="d" x1="156.5" y1="380" x2="156.5" y2="415.6" />
<line class="d" x1="345.5" y1="380" x2="345.5" y2="415.6" />
<line class="d" x1="200.5" y1="388" x2="200.5" y2="401" />
<line class="d" x1="300.5" y1="388.6" x2="300.5" y2="401" />
<line class="d" x1="156" y1="399.5" x2="200.6" y2="399.5" />
<path class="af" d="M156,399.5 L162,398.5 L162,400.5 Z"/>
<path class="af" d="M200.6,399.5 L194.6,400.5 L194.6,398.5 Z"/>
<text class="tx" transform="translate(178.8,393.4) scale(0.46,1)" font-size="12.5" text-anchor="middle" dominant-baseline="central">M</text>
<line class="d" x1="200.6" y1="399.5" x2="300" y2="399.5" />
<path class="af" d="M200.6,399.5 L206.6,398.5 L206.6,400.5 Z"/>
<path class="af" d="M300,399.5 L294,400.5 L294,398.5 Z"/>
<text class="tx" transform="translate(250,393.6) scale(0.58,1)" font-size="12.5" text-anchor="middle" dominant-baseline="central">L</text>
<line class="d" x1="156" y1="414.5" x2="345" y2="414.5" />
<path class="af" d="M156,414.5 L162,413.5 L162,415.5 Z"/>
<path class="af" d="M345,414.5 L339,415.5 L339,413.5 Z"/>
<text class="tx" transform="translate(250,408.2) scale(0.58,1)" font-size="12.5" text-anchor="middle" dominant-baseline="central">C</text>
</g>
<g id="pC">
<line class="d" x1="447.6" y1="266.5" x2="541" y2="266.5" />
<path class="af" d="M447.6,266.5 L452.2,265.65 L452.2,267.35 Z"/>
<path class="af" d="M541,266.5 L536.4,267.35 L536.4,265.65 Z"/>
<text class="tx" transform="translate(494.4,260) scale(0.58,1)" font-size="12.5" text-anchor="middle" dominant-baseline="central">I</text>
<line class="d" x1="447.5" y1="265" x2="447.5" y2="371.6" />
<line class="d" x1="541.5" y1="265" x2="541.5" y2="371.6" />
<path class="t" d="M447.6,315.21 A49.93,49.93 0 0 1 473.2,287.4" />
<path class="t" d="M515.4,287.31 A49.93,49.93 0 0 1 541,314.68" />
<line class="g" x1="473.2" y1="287.4" x2="515.4" y2="287.31" />
<path class="k" d="M473,286.6 L477,281.8 L511.6,281.8 L515.6,286.6" />
<line class="m" x1="478" y1="283.5" x2="510.6" y2="283.5" />
<line class="t" x1="475" y1="285.5" x2="513.6" y2="285.5" />
<rect class="t" x="477.5" y="280.5" width="5" height="2" rx="1" />
<rect class="t" x="506.5" y="280.5" width="5" height="2" rx="1" />
<path class="bf" d="M493.1,286.2 L494.4,283.6 L495.7,286.2 Z" />
<path class="t" d="M518.5,286.6 Q521.1,284.6 523.3,287 Q524.1,288.6 522.7,290" />
<circle class="k" cx="494.4" cy="332.6" r="45.1" />
<circle class="t" cx="494.4" cy="332.6" r="43.5" />
<circle class="g" cx="494.4" cy="332.6" r="41.1" />
<path class="w" d="M489.02,300.04 A33,33 0 0 0 461.84,327.22 Q461.61,328.9 463.31,328.9 L481.81,328.9 Q483.51,328.9 484.18,327.34 A11.5,11.5 0 0 1 489.14,322.38 Q490.7,321.71 490.7,320.01 L490.7,301.51 Q490.7,299.81 489.02,300.04 Z" />
<path class="w" d="M489.02,365.16 A33,33 0 0 1 461.84,337.98 Q461.61,336.3 463.31,336.3 L481.81,336.3 Q483.51,336.3 484.18,337.86 A11.5,11.5 0 0 0 489.14,342.82 Q490.7,343.49 490.7,345.19 L490.7,363.69 Q490.7,365.39 489.02,365.16 Z" />
<path class="w" d="M499.78,300.04 A33,33 0 0 1 526.96,327.22 Q527.19,328.9 525.49,328.9 L506.99,328.9 Q505.29,328.9 504.62,327.34 A11.5,11.5 0 0 0 499.66,322.38 Q498.1,321.71 498.1,320.01 L498.1,301.51 Q498.1,299.81 499.78,300.04 Z" />
<path class="w" d="M499.78,365.16 A33,33 0 0 0 526.96,337.98 Q527.19,336.3 525.49,336.3 L506.99,336.3 Q505.29,336.3 504.62,337.86 A11.5,11.5 0 0 1 499.66,342.82 Q498.1,343.49 498.1,345.19 L498.1,363.69 Q498.1,365.39 499.78,365.16 Z" />
<line class="c" x1="442" y1="332.5" x2="542" y2="332.5" />
<line class="d" x1="542" y1="332.5" x2="569.6" y2="332.5" />
<line class="c" x1="494.5" y1="284" x2="494.5" y2="386" />
<circle class="k" cx="460.6" cy="299" r="1.2" />
<circle class="bf" cx="460.6" cy="299" r="0.5" />
<circle class="k" cx="528.2" cy="299" r="1.2" />
<circle class="bf" cx="528.2" cy="299" r="0.5" />
<circle class="k" cx="460.6" cy="366.2" r="1.2" />
<circle class="bf" cx="460.6" cy="366.2" r="0.5" />
<circle class="k" cx="528.2" cy="366.2" r="1.2" />
<circle class="bf" cx="528.2" cy="366.2" r="0.5" />
<path class="t" d="M441,381 L441,372.6 Q441,371.6 442,371.6 L447.6,371.6 M541,371.6 L547.4,371.6 Q548.4,371.6 548.4,372.6 L548.4,381" />
<path class="k" d="M441,381 L462.48,381 L464.63,379.6 L524.77,379.6 L526.92,381 L548.4,381" />
<line class="g" x1="442.5" y1="372" x2="442.5" y2="381" />
<line class="g" x1="546.5" y1="372" x2="546.5" y2="381" />
<line class="g" x1="447.6" y1="371.6" x2="457.6" y2="379.6" />
<line class="g" x1="541" y1="371.6" x2="531" y2="379.6" />
<line class="d" x1="441.5" y1="381.6" x2="441.5" y2="400.2" />
<line class="d" x1="548.5" y1="381.6" x2="548.5" y2="400.2" />
<line class="d" x1="441" y1="398.5" x2="548.4" y2="398.5" />
<path class="af" d="M441,398.5 L445.6,397.65 L445.6,399.35 Z"/>
<path class="af" d="M548.4,398.5 L543.8,399.35 L543.8,397.65 Z"/>
<text class="tx" transform="translate(494.4,393.2) scale(0.58,1)" font-size="12.5" text-anchor="middle" dominant-baseline="central">D</text>
<line class="d" x1="512.6" y1="281.5" x2="583.4" y2="281.5" />
<line class="d" x1="549" y1="381.5" x2="583.4" y2="381.5" />
<line class="d" x1="549" y1="371.5" x2="557" y2="371.5" />
<line class="d" x1="583.5" y1="281" x2="583.5" y2="381" />
<path class="af" d="M583.5,281 L584.35,285.6 L582.65,285.6 Z"/>
<path class="af" d="M583.5,381 L582.65,376.4 L584.35,376.4 Z"/>
<text class="tx" transform="translate(576.4,327.6) rotate(-90) scale(0.68,1)" font-size="11.5" text-anchor="middle" dominant-baseline="central">E</text>
<line class="d" x1="568.5" y1="332.6" x2="568.5" y2="381" />
<path class="af" d="M568.5,332.6 L569.35,337.2 L567.65,337.2 Z"/>
<path class="af" d="M568.5,381 L567.65,376.4 L569.35,376.4 Z"/>
<text class="tx" transform="translate(563,355) rotate(-90) scale(0.55,1)" font-size="12.5" text-anchor="middle" dominant-baseline="central">H</text>
<line class="d" x1="556.5" y1="358" x2="556.5" y2="386" />
<path class="af" d="M556.5,371.6 L555.65,367 L557.35,367 Z"/>
<path class="af" d="M556.5,381 L557.35,385.6 L555.65,385.6 Z"/>
<text class="tx" transform="translate(551.4,359) rotate(-90) scale(0.58,1)" font-size="12.5" text-anchor="middle" dominant-baseline="central">F</text>
<line class="c" x1="609.6" y1="332.5" x2="777" y2="332.5" />
<rect class="t" x="619.5" y="288.5" width="29" height="89" rx="0" />
<line class="t" x1="622.5" y1="288.4" x2="622.5" y2="377.2" />
<rect class="t" x="742.5" y="288.5" width="28" height="89" rx="0" />
<line class="t" x1="767.5" y1="288.4" x2="767.5" y2="377.2" />
<rect class="g" x="649.5" y="280.5" width="90" height="105" rx="0" />
<path class="w" d="M647.4,332.7 L647.4,287.7 Q647.4,286.3 649.4,286.3 Q651.4,286.3 651.4,287.7 L651.4,327.3 Q651.8,329.7 654.6,330.1" />
<line class="m" x1="652.6" y1="287.3" x2="657.6" y2="298.9" />
<line class="t" x1="654.5" y1="299.7" x2="654.5" y2="326.7" />
<line class="g" x1="655.5" y1="299.7" x2="655.5" y2="326.7" />
<circle class="t" cx="646.6" cy="299.7" r="0.9" />
<circle class="t" cx="646.6" cy="317.7" r="0.9" />
<path class="t" d="M655.6,303.3 L658.2,303.1 L659.2,307.3 L656.8,308.1 Z" style="fill:#ddd"/>
<line class="t" x1="658" y1="308.3" x2="659.2" y2="313.1" />
<path class="w" d="M741.4,332.7 L741.4,287.7 Q741.4,286.3 739.4,286.3 Q737.4,286.3 737.4,287.7 L737.4,327.3 Q737,329.7 734.2,330.1" />
<line class="m" x1="736.2" y1="287.3" x2="731.2" y2="298.9" />
<line class="t" x1="734.5" y1="299.7" x2="734.5" y2="326.7" />
<line class="g" x1="733.5" y1="299.7" x2="733.5" y2="326.7" />
<circle class="t" cx="742.2" cy="299.7" r="0.9" />
<circle class="t" cx="742.2" cy="317.7" r="0.9" />
<path class="t" d="M733.2,303.3 L730.6,303.1 L729.6,307.3 L732,308.1 Z" style="fill:#ddd"/>
<line class="t" x1="730.8" y1="308.3" x2="729.6" y2="313.1" />
<line class="m" x1="657.6" y1="298.5" x2="731.2" y2="298.5" />
<line class="t" x1="657.6" y1="300.5" x2="731.2" y2="300.5" />
<line class="m" x1="658" y1="308.5" x2="734.2" y2="308.5" />
<line class="m" x1="658" y1="310.5" x2="734.2" y2="310.5" />
<circle class="k" cx="664.6" cy="288.5" r="7.1" />
<circle class="k" cx="664.6" cy="288.5" r="4.05" />
<line class="g" x1="659" y1="288.5" x2="670.2" y2="288.5" />
<line class="g" x1="664.5" y1="282.9" x2="664.5" y2="294.1" />
<line class="k" x1="663.5" y1="298.9" x2="663.5" y2="308" />
<line class="k" x1="665.5" y1="298.9" x2="665.5" y2="308" />
<circle class="k" cx="694.6" cy="288.5" r="7.1" />
<circle class="k" cx="694.6" cy="288.5" r="4.05" />
<line class="g" x1="689" y1="288.5" x2="700.2" y2="288.5" />
<line class="g" x1="694.5" y1="282.9" x2="694.5" y2="294.1" />
<line class="k" x1="693.5" y1="298.9" x2="693.5" y2="308" />
<line class="k" x1="695.5" y1="298.9" x2="695.5" y2="308" />
<circle class="k" cx="724.4" cy="288.5" r="7.1" />
<circle class="k" cx="724.4" cy="288.5" r="4.05" />
<line class="g" x1="718.8" y1="288.5" x2="730" y2="288.5" />
<line class="g" x1="724.5" y1="282.9" x2="724.5" y2="294.1" />
<line class="k" x1="723.5" y1="298.9" x2="723.5" y2="308" />
<line class="k" x1="725.5" y1="298.9" x2="725.5" y2="308" />
<path class="m" d="M674.4,299.3 L674.4,288.1 Q674.4,286.5 676.4,286.5 Q678.4,286.5 678.4,288.1 L678.4,299.3" />
<path class="m" d="M711.2,299.3 L711.2,288.1 Q711.2,286.5 713.2,286.5 Q715.2,286.5 715.2,288.1 L715.2,299.3" />
<path class="m" d="M678.4,310.1 L678.4,296.1 Q678.4,294.7 680.2,294.7 Q682,294.7 682,296.1 L682,310.1" />
<path class="m" d="M707.8,310.1 L707.8,296.1 Q707.8,294.7 709.6,294.7 Q711.4,294.7 711.4,296.1 L711.4,310.1" />
<line class="k" x1="677.1" y1="282.5" x2="681.9" y2="282.5" />
<line class="k" x1="707.5" y1="282.5" x2="712.3" y2="282.5" />
<line class="t" x1="709.5" y1="299.3" x2="709.5" y2="333.2" />
<line class="t" x1="712.5" y1="299.3" x2="712.5" y2="333.2" />
<rect class="t" x="723.5" y="299.5" width="4" height="34" rx="0" style="fill:#ccc"/>
<line class="k" x1="723.5" y1="299.3" x2="723.5" y2="333.2" />
<line class="k" x1="727.5" y1="299.3" x2="727.5" y2="333.2" />
<line class="k" x1="670.8" y1="311.5" x2="699.9" y2="311.5" />
<line class="g" x1="672.8" y1="312.5" x2="697.9" y2="312.5" />
<g transform="translate(0,665.4) scale(1,-1)">
<path class="w" d="M647.4,332.7 L647.4,287.7 Q647.4,286.3 649.4,286.3 Q651.4,286.3 651.4,287.7 L651.4,327.3 Q651.8,329.7 654.6,330.1" />
<line class="m" x1="652.6" y1="287.3" x2="657.6" y2="298.9" />
<line class="t" x1="654.5" y1="299.7" x2="654.5" y2="326.7" />
<line class="g" x1="655.5" y1="299.7" x2="655.5" y2="326.7" />
<circle class="t" cx="646.6" cy="299.7" r="0.9" />
<circle class="t" cx="646.6" cy="317.7" r="0.9" />
<path class="t" d="M655.6,303.3 L658.2,303.1 L659.2,307.3 L656.8,308.1 Z" style="fill:#ddd"/>
<line class="t" x1="658" y1="308.3" x2="659.2" y2="313.1" />
<path class="w" d="M741.4,332.7 L741.4,287.7 Q741.4,286.3 739.4,286.3 Q737.4,286.3 737.4,287.7 L737.4,327.3 Q737,329.7 734.2,330.1" />
<line class="m" x1="736.2" y1="287.3" x2="731.2" y2="298.9" />
<line class="t" x1="734.5" y1="299.7" x2="734.5" y2="326.7" />
<line class="g" x1="733.5" y1="299.7" x2="733.5" y2="326.7" />
<circle class="t" cx="742.2" cy="299.7" r="0.9" />
<circle class="t" cx="742.2" cy="317.7" r="0.9" />
<path class="t" d="M733.2,303.3 L730.6,303.1 L729.6,307.3 L732,308.1 Z" style="fill:#ddd"/>
<line class="t" x1="730.8" y1="308.3" x2="729.6" y2="313.1" />
<line class="m" x1="657.6" y1="298.5" x2="731.2" y2="298.5" />
<line class="t" x1="657.6" y1="300.5" x2="731.2" y2="300.5" />
<line class="m" x1="658" y1="308.5" x2="734.2" y2="308.5" />
<line class="m" x1="658" y1="310.5" x2="734.2" y2="310.5" />
<circle class="k" cx="664.6" cy="288.5" r="7.1" />
<circle class="k" cx="664.6" cy="288.5" r="4.05" />
<line class="g" x1="659" y1="288.5" x2="670.2" y2="288.5" />
<line class="g" x1="664.5" y1="282.9" x2="664.5" y2="294.1" />
<line class="k" x1="663.5" y1="298.9" x2="663.5" y2="308" />
<line class="k" x1="665.5" y1="298.9" x2="665.5" y2="308" />
<circle class="k" cx="694.6" cy="288.5" r="7.1" />
<circle class="k" cx="694.6" cy="288.5" r="4.05" />
<line class="g" x1="689" y1="288.5" x2="700.2" y2="288.5" />
<line class="g" x1="694.5" y1="282.9" x2="694.5" y2="294.1" />
<line class="k" x1="693.5" y1="298.9" x2="693.5" y2="308" />
<line class="k" x1="695.5" y1="298.9" x2="695.5" y2="308" />
<circle class="k" cx="724.4" cy="288.5" r="7.1" />
<circle class="k" cx="724.4" cy="288.5" r="4.05" />
<line class="g" x1="718.8" y1="288.5" x2="730" y2="288.5" />
<line class="g" x1="724.5" y1="282.9" x2="724.5" y2="294.1" />
<line class="k" x1="723.5" y1="298.9" x2="723.5" y2="308" />
<line class="k" x1="725.5" y1="298.9" x2="725.5" y2="308" />
<path class="m" d="M674.4,299.3 L674.4,288.1 Q674.4,286.5 676.4,286.5 Q678.4,286.5 678.4,288.1 L678.4,299.3" />
<path class="m" d="M711.2,299.3 L711.2,288.1 Q711.2,286.5 713.2,286.5 Q715.2,286.5 715.2,288.1 L715.2,299.3" />
<path class="m" d="M678.4,310.1 L678.4,296.1 Q678.4,294.7 680.2,294.7 Q682,294.7 682,296.1 L682,310.1" />
<path class="m" d="M707.8,310.1 L707.8,296.1 Q707.8,294.7 709.6,294.7 Q711.4,294.7 711.4,296.1 L711.4,310.1" />
<line class="k" x1="677.1" y1="282.5" x2="681.9" y2="282.5" />
<line class="k" x1="707.5" y1="282.5" x2="712.3" y2="282.5" />
<line class="t" x1="709.5" y1="299.3" x2="709.5" y2="333.2" />
<line class="t" x1="712.5" y1="299.3" x2="712.5" y2="333.2" />
<rect class="t" x="723.5" y="299.5" width="4" height="34" rx="0" style="fill:#ccc"/>
<line class="k" x1="723.5" y1="299.3" x2="723.5" y2="333.2" />
<line class="k" x1="727.5" y1="299.3" x2="727.5" y2="333.2" />
<line class="k" x1="670.8" y1="311.5" x2="699.9" y2="311.5" />
<line class="g" x1="672.8" y1="312.5" x2="697.9" y2="312.5" />
</g>
<rect class="m" x="660.5" y="313.5" width="49" height="39" rx="4" />
<line class="k" x1="668.4" y1="319.5" x2="701.9" y2="319.5" />
<line class="k" x1="668.4" y1="346.5" x2="701.9" y2="346.5" />
<line class="k" x1="667.5" y1="320.4" x2="667.5" y2="345.4" />
<line class="k" x1="702.5" y1="320.4" x2="702.5" y2="345.4" />
<line class="t" x1="668.8" y1="315.5" x2="701.9" y2="315.5" />
<line class="t" x1="668.8" y1="350.5" x2="701.9" y2="350.5" />
<circle class="k" cx="664.8" cy="317.4" r="2.9" />
<circle class="m" cx="664.8" cy="317.4" r="1.35" />
<path class="k" d="M669.5,315.9 A4.7,4.7 0 0 1 663.3,322.1" />
<circle class="k" cx="705.5" cy="317.4" r="2.9" />
<circle class="m" cx="705.5" cy="317.4" r="1.35" />
<path class="k" d="M700.8,315.9 A4.7,4.7 0 0 0 707,322.1" />
<circle class="k" cx="664.8" cy="348" r="2.9" />
<circle class="m" cx="664.8" cy="348" r="1.35" />
<path class="k" d="M669.5,349.5 A4.7,4.7 0 0 0 663.3,343.3" />
<circle class="k" cx="705.5" cy="348" r="2.9" />
<circle class="m" cx="705.5" cy="348" r="1.35" />
<path class="k" d="M700.8,349.5 A4.7,4.7 0 0 1 707,343.3" />
<circle class="bf" cx="652.4" cy="332.7" r="1.4" />
<rect class="t" x="656.5" y="330.5" width="4" height="4" rx="0" style="fill:#ddd"/>
<path class="k" d="M651,327.7 Q655,329.7 655,332.7 Q655,335.7 651,337.7" />
<circle class="bf" cx="736.4" cy="332.7" r="1.4" />
<rect class="k" x="710.5" y="330.5" width="23" height="4" rx="0" style="fill:#d4d4d4"/>
<path class="k" d="M737.8,327.7 Q733.8,329.7 733.8,332.7 Q733.8,335.7 737.8,337.7" />
<line class="t" x1="700.5" y1="330.8" x2="700.5" y2="334.6" />
<line class="d" x1="664.6" y1="273.5" x2="694.6" y2="273.5" />
<path class="af" d="M664.6,273.5 L669.2,272.65 L669.2,274.35 Z"/>
<path class="af" d="M694.6,273.5 L690,274.35 L690,272.65 Z"/>
<line class="d" x1="694.6" y1="273.5" x2="724.4" y2="273.5" />
<path class="af" d="M694.6,273.5 L699.2,272.65 L699.2,274.35 Z"/>
<path class="af" d="M724.4,273.5 L719.8,274.35 L719.8,272.65 Z"/>
<text class="tx" transform="translate(680,267.6) scale(0.58,1)" font-size="12.5" text-anchor="middle" dominant-baseline="central">A</text>
<text class="tx" transform="translate(710,267.6) scale(0.58,1)" font-size="12.5" text-anchor="middle" dominant-baseline="central">A</text>
<line class="d" x1="664.5" y1="272.4" x2="664.5" y2="288" />
<line class="d" x1="694.5" y1="272.4" x2="694.5" y2="288" />
<line class="d" x1="724.5" y1="272.4" x2="724.5" y2="288" />
<text class="tx" transform="translate(645,268.6) scale(0.58,1)" font-size="12.5" text-anchor="middle" dominant-baseline="central">ØG</text>
<line class="d" x1="640" y1="273.5" x2="654" y2="273.5" />
<line class="k" x1="654" y1="273" x2="670" y2="294.4" />
<path class="af" d="M670,294.4 L666.56,291.23 L667.92,290.21 Z"/>
<line class="d" x1="602" y1="288.5" x2="620" y2="288.5" />
<line class="d" x1="602" y1="377.5" x2="620" y2="377.5" />
<line class="d" x1="603.5" y1="288.4" x2="603.5" y2="377.2" />
<path class="af" d="M603.5,288.4 L604.35,293 L602.65,293 Z"/>
<path class="af" d="M603.5,377.2 L602.65,372.6 L604.35,372.6 Z"/>
<text class="tx" transform="translate(597.4,333) rotate(-90) scale(0.58,1)" font-size="12.5" text-anchor="middle" dominant-baseline="central">ØN</text>
<line class="d" x1="770.6" y1="288.5" x2="789" y2="288.5" />
<line class="d" x1="770.6" y1="377.5" x2="789" y2="377.5" />
<line class="d" x1="787.5" y1="288.6" x2="787.5" y2="377.2" />
<path class="af" d="M787.5,288.6 L788.35,293.2 L786.65,293.2 Z"/>
<path class="af" d="M787.5,377.2 L786.65,372.6 L788.35,372.6 Z"/>
<text class="tx" transform="translate(781.8,332.8) rotate(-90) scale(0.58,1)" font-size="12.5" text-anchor="middle" dominant-baseline="central">B</text>
<line class="d" x1="619.5" y1="378" x2="619.5" y2="416" />
<line class="d" x1="770.5" y1="378" x2="770.5" y2="416" />
<line class="d" x1="648.5" y1="386" x2="648.5" y2="402" />
<line class="d" x1="741.5" y1="386" x2="741.5" y2="402" />
<line class="d" x1="619.6" y1="400.5" x2="648.4" y2="400.5" />
<path class="af" d="M619.6,400.5 L624.2,399.65 L624.2,401.35 Z"/>
<path class="af" d="M648.4,400.5 L643.8,401.35 L643.8,399.65 Z"/>
<text class="tx" transform="translate(636,394.6) scale(0.46,1)" font-size="12.5" text-anchor="middle" dominant-baseline="central">M</text>
<line class="d" x1="648.4" y1="400.5" x2="741.6" y2="400.5" />
<path class="af" d="M648.4,400.5 L653,399.65 L653,401.35 Z"/>
<path class="af" d="M741.6,400.5 L737,401.35 L737,399.65 Z"/>
<text class="tx" transform="translate(696.4,394.2) scale(0.58,1)" font-size="12.5" text-anchor="middle" dominant-baseline="central">L</text>
<line class="d" x1="619.6" y1="414.5" x2="770" y2="414.5" />
<path class="af" d="M619.6,414.5 L624.2,413.65 L624.2,415.35 Z"/>
<path class="af" d="M770,414.5 L765.4,415.35 L765.4,413.65 Z"/>
<text class="tx" transform="translate(693,409.2) scale(0.58,1)" font-size="12.5" text-anchor="middle" dominant-baseline="central">C</text>
</g>
<g id="pD">
<line class="d" x1="12.4" y1="491.5" x2="113" y2="491.5" />
<path class="af" d="M12.4,491.5 L17,490.65 L17,492.35 Z"/>
<path class="af" d="M113,491.5 L108.4,492.35 L108.4,490.65 Z"/>
<text class="tx" transform="translate(63,485.4) scale(0.58,1)" font-size="12.5" text-anchor="middle" dominant-baseline="central">I</text>
<line class="d" x1="12.5" y1="490.6" x2="12.5" y2="605" />
<line class="d" x1="113.5" y1="490.6" x2="113.5" y2="605" />
<path class="t" d="M12.4,543.46 A54.24,54.24 0 0 1 40.6,513.6" />
<path class="t" d="M84.8,513.33 A54.24,54.24 0 0 1 113,541.97" />
<line class="g" x1="40.6" y1="513.6" x2="84.8" y2="513.33" />
<path class="k" d="M40.4,513.6 L44.4,508.8 L81,508.8 L85,513.6" />
<line class="m" x1="45.4" y1="510.5" x2="80" y2="510.5" />
<line class="t" x1="42.4" y1="512.5" x2="83" y2="512.5" />
<rect class="t" x="44.5" y="507.5" width="5" height="2" rx="1" />
<rect class="t" x="76.5" y="507.5" width="4" height="2" rx="1" />
<path class="bf" d="M61.7,513.2 L63,510.6 L64.3,513.2 Z" />
<path class="t" d="M87.9,513.6 Q90.5,511.6 92.7,514 Q93.5,515.6 92.1,517" />
<circle class="k" cx="63" cy="563" r="49" />
<circle class="t" cx="63" cy="563" r="47.4" />
<circle class="g" cx="63" cy="563" r="45" />
<path class="w" d="M57.81,527.38 A36,36 0 0 0 27.38,557.81 Q27.17,559.5 28.87,559.5 L49.3,559.5 Q51,559.5 51.59,557.91 A12.5,12.5 0 0 1 57.91,551.59 Q59.5,551 59.5,549.3 L59.5,528.87 Q59.5,527.17 57.81,527.38 Z" />
<path class="w" d="M57.81,598.62 A36,36 0 0 1 27.38,568.19 Q27.17,566.5 28.87,566.5 L49.3,566.5 Q51,566.5 51.59,568.09 A12.5,12.5 0 0 0 57.91,574.41 Q59.5,575 59.5,576.7 L59.5,597.13 Q59.5,598.83 57.81,598.62 Z" />
<path class="w" d="M68.19,527.38 A36,36 0 0 1 98.62,557.81 Q98.83,559.5 97.13,559.5 L76.7,559.5 Q75,559.5 74.41,557.91 A12.5,12.5 0 0 0 68.09,551.59 Q66.5,551 66.5,549.3 L66.5,528.87 Q66.5,527.17 68.19,527.38 Z" />
<path class="w" d="M68.19,598.62 A36,36 0 0 0 98.62,568.19 Q98.83,566.5 97.13,566.5 L76.7,566.5 Q75,566.5 74.41,568.09 A12.5,12.5 0 0 1 68.09,574.41 Q66.5,575 66.5,576.7 L66.5,597.13 Q66.5,598.83 68.19,598.62 Z" />
<line class="c" x1="6.8" y1="563.5" x2="114" y2="563.5" />
<line class="d" x1="114" y1="563.5" x2="143.2" y2="563.5" />
<line class="c" x1="63.5" y1="511" x2="63.5" y2="620" />
<circle class="k" cx="26.6" cy="527.4" r="1.2" />
<circle class="bf" cx="26.6" cy="527.4" r="0.5" />
<circle class="k" cx="99" cy="527.4" r="1.2" />
<circle class="bf" cx="99" cy="527.4" r="0.5" />
<circle class="k" cx="26.6" cy="599.4" r="1.2" />
<circle class="bf" cx="26.6" cy="599.4" r="0.5" />
<circle class="k" cx="99" cy="599.4" r="1.2" />
<circle class="bf" cx="99" cy="599.4" r="0.5" />
<path class="t" d="M5,615 L5,606 Q5,605 6,605 L12.4,605 M113,605 L120,605 Q121,605 121,606 L121,615" />
<path class="k" d="M5,615 L28.2,615 L30.52,613.6 L95.48,613.6 L97.8,615 L121,615" />
<line class="g" x1="6.5" y1="605.4" x2="6.5" y2="615" />
<line class="g" x1="119.5" y1="605.4" x2="119.5" y2="615" />
<line class="g" x1="12.4" y1="605" x2="22.4" y2="613.6" />
<line class="g" x1="113" y1="605" x2="103" y2="613.6" />
<line class="d" x1="5.5" y1="615.6" x2="5.5" y2="635.4" />
<line class="d" x1="121.5" y1="615.6" x2="121.5" y2="635.4" />
<line class="d" x1="5" y1="633.5" x2="121" y2="633.5" />
<path class="af" d="M5,633.5 L9.6,632.65 L9.6,634.35 Z"/>
<path class="af" d="M121,633.5 L116.4,634.35 L116.4,632.65 Z"/>
<text class="tx" transform="translate(63,628.2) scale(0.58,1)" font-size="12.5" text-anchor="middle" dominant-baseline="central">D</text>
<line class="d" x1="82" y1="508.5" x2="156" y2="508.5" />
<line class="d" x1="121.6" y1="615.5" x2="156" y2="615.5" />
<line class="d" x1="121.6" y1="605.5" x2="129.6" y2="605.5" />
<line class="d" x1="155.5" y1="508" x2="155.5" y2="615" />
<path class="af" d="M155.5,508 L156.35,512.6 L154.65,512.6 Z"/>
<path class="af" d="M155.5,615 L154.65,610.4 L156.35,610.4 Z"/>
<text class="tx" transform="translate(150.2,557) rotate(-90) scale(0.68,1)" font-size="11.5" text-anchor="middle" dominant-baseline="central">E</text>
<line class="d" x1="141.5" y1="563" x2="141.5" y2="615" />
<path class="af" d="M141.5,563 L142.35,567.6 L140.65,567.6 Z"/>
<path class="af" d="M141.5,615 L140.65,610.4 L142.35,610.4 Z"/>
<text class="tx" transform="translate(136.4,587) rotate(-90) scale(0.55,1)" font-size="12.5" text-anchor="middle" dominant-baseline="central">H</text>
<line class="d" x1="129.5" y1="591.4" x2="129.5" y2="620" />
<path class="af" d="M129.5,605 L128.65,600.4 L130.35,600.4 Z"/>
<path class="af" d="M129.5,615 L130.35,619.6 L128.65,619.6 Z"/>
<text class="tx" transform="translate(123.8,591) rotate(-90) scale(0.58,1)" font-size="12.5" text-anchor="middle" dominant-baseline="central">F</text>
<line class="c" x1="187" y1="563.5" x2="366" y2="563.5" />
<rect class="t" x="197.5" y="515.5" width="30" height="96" rx="0" />
<line class="t" x1="199.5" y1="515.6" x2="199.5" y2="611" />
<rect class="t" x="329.5" y="515.5" width="30" height="96" rx="0" />
<line class="t" x1="356.5" y1="515.6" x2="356.5" y2="611" />
<rect class="g" x="229.5" y="505.5" width="98" height="115" rx="0" />
<path class="w" d="M226.8,563.7 L226.8,515.55 Q226.8,514.05 228.8,514.05 Q230.8,514.05 230.8,515.55 L230.8,557.92 Q231.2,560.49 234,560.92" />
<line class="m" x1="232" y1="515.12" x2="237" y2="527.53" />
<line class="t" x1="233.5" y1="528.39" x2="233.5" y2="557.28" />
<line class="g" x1="235.5" y1="528.39" x2="235.5" y2="557.28" />
<circle class="t" cx="226" cy="528.39" r="0.9" />
<circle class="t" cx="226" cy="547.65" r="0.9" />
<path class="t" d="M235,532.24 L237.6,532.03 L238.6,536.52 L236.2,537.38 Z" style="fill:#ddd"/>
<line class="t" x1="237.4" y1="537.59" x2="238.6" y2="542.73" />
<path class="w" d="M329.6,563.7 L329.6,515.55 Q329.6,514.05 327.6,514.05 Q325.6,514.05 325.6,515.55 L325.6,557.92 Q325.2,560.49 322.4,560.92" />
<line class="m" x1="324.4" y1="515.12" x2="319.4" y2="527.53" />
<line class="t" x1="323.5" y1="528.39" x2="323.5" y2="557.28" />
<line class="g" x1="321.5" y1="528.39" x2="321.5" y2="557.28" />
<circle class="t" cx="330.4" cy="528.39" r="0.9" />
<circle class="t" cx="330.4" cy="547.65" r="0.9" />
<path class="t" d="M321.4,532.24 L318.8,532.03 L317.8,536.52 L320.2,537.38 Z" style="fill:#ddd"/>
<line class="t" x1="319" y1="537.59" x2="317.8" y2="542.73" />
<line class="m" x1="237" y1="527.5" x2="319.4" y2="527.5" />
<line class="t" x1="237" y1="528.5" x2="319.4" y2="528.5" />
<line class="m" x1="237.4" y1="537.5" x2="322.4" y2="537.5" />
<line class="m" x1="237.4" y1="539.5" x2="322.4" y2="539.5" />
<circle class="k" cx="245.4" cy="515.98" r="7.8" />
<circle class="k" cx="245.4" cy="515.98" r="4.3" />
<line class="g" x1="239.1" y1="515.5" x2="251.7" y2="515.5" />
<line class="g" x1="245.5" y1="509.68" x2="245.5" y2="522.28" />
<line class="k" x1="244.5" y1="527.53" x2="244.5" y2="537.27" />
<line class="k" x1="246.5" y1="527.53" x2="246.5" y2="537.27" />
<circle class="k" cx="277.8" cy="515.98" r="7.8" />
<circle class="k" cx="277.8" cy="515.98" r="4.3" />
<line class="g" x1="271.5" y1="515.5" x2="284.1" y2="515.5" />
<line class="g" x1="277.5" y1="509.68" x2="277.5" y2="522.28" />
<line class="k" x1="276.5" y1="527.53" x2="276.5" y2="537.27" />
<line class="k" x1="279.5" y1="527.53" x2="279.5" y2="537.27" />
<circle class="k" cx="309.6" cy="515.98" r="7.8" />
<circle class="k" cx="309.6" cy="515.98" r="4.3" />
<line class="g" x1="303.3" y1="515.5" x2="315.9" y2="515.5" />
<line class="g" x1="309.5" y1="509.68" x2="309.5" y2="522.28" />
<line class="k" x1="308.5" y1="527.53" x2="308.5" y2="537.27" />
<line class="k" x1="310.5" y1="527.53" x2="310.5" y2="537.27" />
<path class="m" d="M255.9,527.96 L255.9,515.98 Q255.9,514.27 258,514.27 Q260.1,514.27 260.1,515.98 L260.1,527.96" />
<path class="m" d="M295.5,527.96 L295.5,515.98 Q295.5,514.27 297.6,514.27 Q299.7,514.27 299.7,515.98 L299.7,527.96" />
<path class="m" d="M260.2,539.52 L260.2,524.54 Q260.2,523.04 262,523.04 Q263.8,523.04 263.8,524.54 L263.8,539.52" />
<path class="m" d="M291.8,539.52 L291.8,524.54 Q291.8,523.04 293.6,523.04 Q295.4,523.04 295.4,524.54 L295.4,539.52" />
<line class="k" x1="259.6" y1="507.5" x2="264.4" y2="507.5" />
<line class="k" x1="291.6" y1="507.5" x2="296.4" y2="507.5" />
<line class="t" x1="293.5" y1="527.96" x2="293.5" y2="564.2" />
<line class="t" x1="296.5" y1="527.96" x2="296.5" y2="564.2" />
<rect class="t" x="308.5" y="527.5" width="4" height="37" rx="0" style="fill:#ccc"/>
<line class="k" x1="308.5" y1="527.96" x2="308.5" y2="564.2" />
<line class="k" x1="312.5" y1="527.96" x2="312.5" y2="564.2" />
<line class="k" x1="251" y1="540.5" x2="283.6" y2="540.5" />
<line class="g" x1="253" y1="541.5" x2="281.6" y2="541.5" />
<g transform="translate(0,1127.4) scale(1,-1)">
<path class="w" d="M226.8,563.7 L226.8,515.55 Q226.8,514.05 228.8,514.05 Q230.8,514.05 230.8,515.55 L230.8,557.92 Q231.2,560.49 234,560.92" />
<line class="m" x1="232" y1="515.12" x2="237" y2="527.53" />
<line class="t" x1="233.5" y1="528.39" x2="233.5" y2="557.28" />
<line class="g" x1="235.5" y1="528.39" x2="235.5" y2="557.28" />
<circle class="t" cx="226" cy="528.39" r="0.9" />
<circle class="t" cx="226" cy="547.65" r="0.9" />
<path class="t" d="M235,532.24 L237.6,532.03 L238.6,536.52 L236.2,537.38 Z" style="fill:#ddd"/>
<line class="t" x1="237.4" y1="537.59" x2="238.6" y2="542.73" />
<path class="w" d="M329.6,563.7 L329.6,515.55 Q329.6,514.05 327.6,514.05 Q325.6,514.05 325.6,515.55 L325.6,557.92 Q325.2,560.49 322.4,560.92" />
<line class="m" x1="324.4" y1="515.12" x2="319.4" y2="527.53" />
<line class="t" x1="323.5" y1="528.39" x2="323.5" y2="557.28" />
<line class="g" x1="321.5" y1="528.39" x2="321.5" y2="557.28" />
<circle class="t" cx="330.4" cy="528.39" r="0.9" />
<circle class="t" cx="330.4" cy="547.65" r="0.9" />
<path class="t" d="M321.4,532.24 L318.8,532.03 L317.8,536.52 L320.2,537.38 Z" style="fill:#ddd"/>
<line class="t" x1="319" y1="537.59" x2="317.8" y2="542.73" />
<line class="m" x1="237" y1="527.5" x2="319.4" y2="527.5" />
<line class="t" x1="237" y1="528.5" x2="319.4" y2="528.5" />
<line class="m" x1="237.4" y1="537.5" x2="322.4" y2="537.5" />
<line class="m" x1="237.4" y1="539.5" x2="322.4" y2="539.5" />
<circle class="k" cx="245.4" cy="515.98" r="7.8" />
<circle class="k" cx="245.4" cy="515.98" r="4.3" />
<line class="g" x1="239.1" y1="515.5" x2="251.7" y2="515.5" />
<line class="g" x1="245.5" y1="509.68" x2="245.5" y2="522.28" />
<line class="k" x1="244.5" y1="527.53" x2="244.5" y2="537.27" />
<line class="k" x1="246.5" y1="527.53" x2="246.5" y2="537.27" />
<circle class="k" cx="277.8" cy="515.98" r="7.8" />
<circle class="k" cx="277.8" cy="515.98" r="4.3" />
<line class="g" x1="271.5" y1="515.5" x2="284.1" y2="515.5" />
<line class="g" x1="277.5" y1="509.68" x2="277.5" y2="522.28" />
<line class="k" x1="276.5" y1="527.53" x2="276.5" y2="537.27" />
<line class="k" x1="279.5" y1="527.53" x2="279.5" y2="537.27" />
<circle class="k" cx="309.6" cy="515.98" r="7.8" />
<circle class="k" cx="309.6" cy="515.98" r="4.3" />
<line class="g" x1="303.3" y1="515.5" x2="315.9" y2="515.5" />
<line class="g" x1="309.5" y1="509.68" x2="309.5" y2="522.28" />
<line class="k" x1="308.5" y1="527.53" x2="308.5" y2="537.27" />
<line class="k" x1="310.5" y1="527.53" x2="310.5" y2="537.27" />
<path class="m" d="M255.9,527.96 L255.9,515.98 Q255.9,514.27 258,514.27 Q260.1,514.27 260.1,515.98 L260.1,527.96" />
<path class="m" d="M295.5,527.96 L295.5,515.98 Q295.5,514.27 297.6,514.27 Q299.7,514.27 299.7,515.98 L299.7,527.96" />
<path class="m" d="M260.2,539.52 L260.2,524.54 Q260.2,523.04 262,523.04 Q263.8,523.04 263.8,524.54 L263.8,539.52" />
<path class="m" d="M291.8,539.52 L291.8,524.54 Q291.8,523.04 293.6,523.04 Q295.4,523.04 295.4,524.54 L295.4,539.52" />
<line class="k" x1="259.6" y1="507.5" x2="264.4" y2="507.5" />
<line class="k" x1="291.6" y1="507.5" x2="296.4" y2="507.5" />
<line class="t" x1="293.5" y1="527.96" x2="293.5" y2="564.2" />
<line class="t" x1="296.5" y1="527.96" x2="296.5" y2="564.2" />
<rect class="t" x="308.5" y="527.5" width="4" height="37" rx="0" style="fill:#ccc"/>
<line class="k" x1="308.5" y1="527.96" x2="308.5" y2="564.2" />
<line class="k" x1="312.5" y1="527.96" x2="312.5" y2="564.2" />
<line class="k" x1="251" y1="540.5" x2="283.6" y2="540.5" />
<line class="g" x1="253" y1="541.5" x2="281.6" y2="541.5" />
</g>
<rect class="m" x="241.5" y="542.5" width="52" height="42" rx="4" />
<line class="k" x1="248.6" y1="549.5" x2="285.6" y2="549.5" />
<line class="k" x1="248.6" y1="577.5" x2="285.6" y2="577.5" />
<line class="k" x1="248.5" y1="550.32" x2="248.5" y2="576.91" />
<line class="k" x1="286.5" y1="550.32" x2="286.5" y2="576.91" />
<line class="t" x1="249" y1="544.5" x2="285.6" y2="544.5" />
<line class="t" x1="249" y1="582.5" x2="285.6" y2="582.5" />
<circle class="k" cx="245" cy="546.8" r="2.9" />
<circle class="m" cx="245" cy="546.8" r="1.35" />
<path class="k" d="M249.7,545.3 A4.7,4.7 0 0 1 243.5,551.5" />
<circle class="k" cx="289.2" cy="546.8" r="2.9" />
<circle class="m" cx="289.2" cy="546.8" r="1.35" />
<path class="k" d="M284.5,545.3 A4.7,4.7 0 0 0 290.7,551.5" />
<circle class="k" cx="245" cy="580" r="2.9" />
<circle class="m" cx="245" cy="580" r="1.35" />
<path class="k" d="M249.7,581.5 A4.7,4.7 0 0 0 243.5,575.3" />
<circle class="k" cx="289.2" cy="580" r="2.9" />
<circle class="m" cx="289.2" cy="580" r="1.35" />
<path class="k" d="M284.5,581.5 A4.7,4.7 0 0 1 290.7,575.3" />
<circle class="bf" cx="231.8" cy="563.7" r="1.4" />
<rect class="t" x="235.5" y="561.5" width="4" height="4" rx="0" style="fill:#ddd"/>
<path class="k" d="M230.4,558.7 Q234.4,560.7 234.4,563.7 Q234.4,566.7 230.4,568.7" />
<circle class="bf" cx="324.6" cy="563.7" r="1.4" />
<rect class="k" x="294.5" y="561.5" width="27" height="4" rx="0" style="fill:#d4d4d4"/>
<path class="k" d="M326,558.7 Q322,560.7 322,563.7 Q322,566.7 326,568.7" />
<line class="t" x1="284.5" y1="561.8" x2="284.5" y2="565.6" />
<line class="d" x1="245.4" y1="499.5" x2="277.8" y2="499.5" />
<path class="af" d="M245.4,499.5 L250,498.65 L250,500.35 Z"/>
<path class="af" d="M277.8,499.5 L273.2,500.35 L273.2,498.65 Z"/>
<line class="d" x1="277.8" y1="499.5" x2="309.6" y2="499.5" />
<path class="af" d="M277.8,499.5 L282.4,498.65 L282.4,500.35 Z"/>
<path class="af" d="M309.6,499.5 L305,500.35 L305,498.65 Z"/>
<text class="tx" transform="translate(262,493.4) scale(0.58,1)" font-size="12.5" text-anchor="middle" dominant-baseline="central">A</text>
<text class="tx" transform="translate(294,493.4) scale(0.58,1)" font-size="12.5" text-anchor="middle" dominant-baseline="central">A</text>
<line class="d" x1="245.5" y1="497.8" x2="245.5" y2="516" />
<line class="d" x1="277.5" y1="497.8" x2="277.5" y2="516" />
<line class="d" x1="309.5" y1="497.8" x2="309.5" y2="516" />
<text class="tx" transform="translate(224.4,494) scale(0.58,1)" font-size="12.5" text-anchor="middle" dominant-baseline="central">ØG</text>
<line class="d" x1="219" y1="498.5" x2="234" y2="498.5" />
<line class="k" x1="234" y1="498.6" x2="251" y2="522.6" />
<path class="af" d="M251,522.6 L247.64,519.37 L249.02,518.38 Z"/>
<line class="d" x1="178" y1="515.5" x2="197" y2="515.5" />
<line class="d" x1="178" y1="611.5" x2="197" y2="611.5" />
<line class="d" x1="180.5" y1="515.6" x2="180.5" y2="611" />
<path class="af" d="M180.5,515.6 L181.35,520.2 L179.65,520.2 Z"/>
<path class="af" d="M180.5,611 L179.65,606.4 L181.35,606.4 Z"/>
<text class="tx" transform="translate(174.6,563) rotate(-90) scale(0.58,1)" font-size="12.5" text-anchor="middle" dominant-baseline="central">ØN</text>
<line class="d" x1="360" y1="516.5" x2="379" y2="516.5" />
<line class="d" x1="360" y1="611.5" x2="379" y2="611.5" />
<line class="d" x1="377.5" y1="516" x2="377.5" y2="611" />
<path class="af" d="M377.5,516 L378.35,520.6 L376.65,520.6 Z"/>
<path class="af" d="M377.5,611 L376.65,606.4 L378.35,606.4 Z"/>
<text class="tx" transform="translate(371.4,563) rotate(-90) scale(0.58,1)" font-size="12.5" text-anchor="middle" dominant-baseline="central">B</text>
<line class="d" x1="197.5" y1="612" x2="197.5" y2="653" />
<line class="d" x1="359.5" y1="612" x2="359.5" y2="653" />
<line class="d" x1="227.5" y1="621" x2="227.5" y2="637.4" />
<line class="d" x1="327.5" y1="621" x2="327.5" y2="637.4" />
<line class="d" x1="197" y1="635.5" x2="227.8" y2="635.5" />
<path class="af" d="M197,635.5 L201.6,634.65 L201.6,636.35 Z"/>
<path class="af" d="M227.8,635.5 L223.2,636.35 L223.2,634.65 Z"/>
<text class="tx" transform="translate(214.4,630) scale(0.46,1)" font-size="12.5" text-anchor="middle" dominant-baseline="central">M</text>
<line class="d" x1="227.8" y1="635.5" x2="327.4" y2="635.5" />
<path class="af" d="M227.8,635.5 L232.4,634.65 L232.4,636.35 Z"/>
<path class="af" d="M327.4,635.5 L322.8,636.35 L322.8,634.65 Z"/>
<text class="tx" transform="translate(279.6,630) scale(0.58,1)" font-size="12.5" text-anchor="middle" dominant-baseline="central">L</text>
<line class="d" x1="197" y1="651.5" x2="359.2" y2="651.5" />
<path class="af" d="M197,651.5 L201.6,650.65 L201.6,652.35 Z"/>
<path class="af" d="M359.2,651.5 L354.6,652.35 L354.6,650.65 Z"/>
<text class="tx" transform="translate(276,645.4) scale(0.58,1)" font-size="12.5" text-anchor="middle" dominant-baseline="central">C</text>
</g>
<g id="pE">
<line class="d" x1="449.4" y1="499.5" x2="543.6" y2="499.5" />
<path class="af" d="M449.4,499.5 L454,498.65 L454,500.35 Z"/>
<path class="af" d="M543.6,499.5 L539,500.35 L539,498.65 Z"/>
<text class="tx" transform="translate(496.6,493) scale(0.58,1)" font-size="12.5" text-anchor="middle" dominant-baseline="central">I</text>
<line class="d" x1="449.5" y1="498.4" x2="449.5" y2="605.6" />
<line class="d" x1="543.5" y1="498.4" x2="543.5" y2="605.6" />
<path class="t" d="M449.4,548.79 A50.59,50.59 0 0 1 476.2,520.71" />
<path class="t" d="M516.8,520.62 A50.59,50.59 0 0 1 543.6,548.28" />
<line class="g" x1="476.2" y1="520.71" x2="516.8" y2="520.62" />
<path class="k" d="M476,520 L480,515.2 L513,515.2 L517,520" />
<line class="m" x1="481" y1="516.5" x2="512" y2="516.5" />
<line class="t" x1="478" y1="518.5" x2="515" y2="518.5" />
<rect class="t" x="480.5" y="513.5" width="5" height="3" rx="1" />
<rect class="t" x="508.5" y="513.5" width="4" height="3" rx="1" />
<path class="bf" d="M495.3,519.6 L496.6,517 L497.9,519.6 Z" />
<path class="t" d="M519.9,520 Q522.5,518 524.7,520.4 Q525.5,522 524.1,523.4" />
<circle class="k" cx="496.6" cy="567" r="45.7" />
<circle class="t" cx="496.6" cy="567" r="44.1" />
<circle class="g" cx="496.6" cy="567" r="41.7" />
<path class="w" d="M491.22,534.44 A33,33 0 0 0 464.04,561.62 Q463.81,563.3 465.51,563.3 L484.01,563.3 Q485.71,563.3 486.38,561.74 A11.5,11.5 0 0 1 491.34,556.78 Q492.9,556.11 492.9,554.41 L492.9,535.91 Q492.9,534.21 491.22,534.44 Z" />
<path class="w" d="M491.22,599.56 A33,33 0 0 1 464.04,572.38 Q463.81,570.7 465.51,570.7 L484.01,570.7 Q485.71,570.7 486.38,572.26 A11.5,11.5 0 0 0 491.34,577.22 Q492.9,577.89 492.9,579.59 L492.9,598.09 Q492.9,599.79 491.22,599.56 Z" />
<path class="w" d="M501.98,534.44 A33,33 0 0 1 529.16,561.62 Q529.39,563.3 527.69,563.3 L509.19,563.3 Q507.49,563.3 506.82,561.74 A11.5,11.5 0 0 0 501.86,556.78 Q500.3,556.11 500.3,554.41 L500.3,535.91 Q500.3,534.21 501.98,534.44 Z" />
<path class="w" d="M501.98,599.56 A33,33 0 0 0 529.16,572.38 Q529.39,570.7 527.69,570.7 L509.19,570.7 Q507.49,570.7 506.82,572.26 A11.5,11.5 0 0 1 501.86,577.22 Q500.3,577.89 500.3,579.59 L500.3,598.09 Q500.3,599.79 501.98,599.56 Z" />
<line class="c" x1="443.8" y1="567.5" x2="544.6" y2="567.5" />
<line class="d" x1="544.6" y1="567.5" x2="571.6" y2="567.5" />
<line class="c" x1="496.5" y1="517.4" x2="496.5" y2="620.6" />
<circle class="k" cx="463" cy="533.4" r="1.2" />
<circle class="bf" cx="463" cy="533.4" r="0.5" />
<circle class="k" cx="530" cy="533.4" r="1.2" />
<circle class="bf" cx="530" cy="533.4" r="0.5" />
<circle class="k" cx="463" cy="600.4" r="1.2" />
<circle class="bf" cx="463" cy="600.4" r="0.5" />
<circle class="k" cx="530" cy="600.4" r="1.2" />
<circle class="bf" cx="530" cy="600.4" r="0.5" />
<path class="t" d="M443,615.6 L443,606.6 Q443,605.6 444,605.6 L449.4,605.6 M543.6,605.6 L550,605.6 Q551,605.6 551,606.6 L551,615.6" />
<path class="k" d="M443,615.6 L464.6,615.6 L466.76,614.2 L527.24,614.2 L529.4,615.6 L551,615.6" />
<line class="g" x1="444.5" y1="606" x2="444.5" y2="615.6" />
<line class="g" x1="549.5" y1="606" x2="549.5" y2="615.6" />
<line class="g" x1="449.4" y1="605.6" x2="459.4" y2="614.2" />
<line class="g" x1="543.6" y1="605.6" x2="533.6" y2="614.2" />
<line class="d" x1="443.5" y1="616.2" x2="443.5" y2="635.1" />
<line class="d" x1="551.5" y1="616.2" x2="551.5" y2="635.1" />
<line class="d" x1="443" y1="633.5" x2="551" y2="633.5" />
<path class="af" d="M443,633.5 L447.6,632.65 L447.6,634.35 Z"/>
<path class="af" d="M551,633.5 L546.4,634.35 L546.4,632.65 Z"/>
<text class="tx" transform="translate(497,627.8) scale(0.58,1)" font-size="12.5" text-anchor="middle" dominant-baseline="central">D</text>
<line class="d" x1="514" y1="514.5" x2="584.8" y2="514.5" />
<line class="d" x1="551.6" y1="615.5" x2="584.8" y2="615.5" />
<line class="d" x1="551.6" y1="605.5" x2="558.6" y2="605.5" />
<line class="d" x1="584.5" y1="514.4" x2="584.5" y2="615.6" />
<path class="af" d="M584.5,514.4 L585.35,519 L583.65,519 Z"/>
<path class="af" d="M584.5,615.6 L583.65,611 L585.35,611 Z"/>
<text class="tx" transform="translate(579,561.6) rotate(-90) scale(0.68,1)" font-size="11.5" text-anchor="middle" dominant-baseline="central">E</text>
<line class="d" x1="570.5" y1="567" x2="570.5" y2="615.6" />
<path class="af" d="M570.5,567 L571.35,571.6 L569.65,571.6 Z"/>
<path class="af" d="M570.5,615.6 L569.65,611 L571.35,611 Z"/>
<text class="tx" transform="translate(564.6,589.6) rotate(-90) scale(0.55,1)" font-size="12.5" text-anchor="middle" dominant-baseline="central">H</text>
<line class="d" x1="558.5" y1="592" x2="558.5" y2="620.6" />
<path class="af" d="M558.5,605.6 L557.65,601 L559.35,601 Z"/>
<path class="af" d="M558.5,615.6 L559.35,620.2 L557.65,620.2 Z"/>
<text class="tx" transform="translate(552.6,594) rotate(-90) scale(0.58,1)" font-size="12.5" text-anchor="middle" dominant-baseline="central">F</text>
<line class="c" x1="610.4" y1="567.5" x2="778" y2="567.5" />
<rect class="t" x="620.5" y="521.5" width="29" height="90" rx="0" />
<line class="t" x1="623.5" y1="521.6" x2="623.5" y2="611.8" />
<rect class="t" x="743.5" y="521.5" width="28" height="90" rx="0" />
<line class="t" x1="768.5" y1="521.6" x2="768.5" y2="611.8" />
<rect class="g" x="650.5" y="513.5" width="92" height="107" rx="0" />
<path class="w" d="M648.4,567 L648.4,521.1 Q648.4,519.67 650.4,519.67 Q652.4,519.67 652.4,521.1 L652.4,561.49 Q652.8,563.94 655.6,564.35" />
<line class="m" x1="653.6" y1="520.69" x2="658.6" y2="532.52" />
<line class="t" x1="655.5" y1="533.34" x2="655.5" y2="560.88" />
<line class="g" x1="656.5" y1="533.34" x2="656.5" y2="560.88" />
<circle class="t" cx="647.6" cy="533.34" r="0.9" />
<circle class="t" cx="647.6" cy="551.7" r="0.9" />
<path class="t" d="M656.6,537.01 L659.2,536.81 L660.2,541.09 L657.8,541.91 Z" style="fill:#ddd"/>
<line class="t" x1="659" y1="542.11" x2="660.2" y2="547.01" />
<path class="w" d="M744.4,567 L744.4,521.1 Q744.4,519.67 742.4,519.67 Q740.4,519.67 740.4,521.1 L740.4,561.49 Q740,563.94 737.2,564.35" />
<line class="m" x1="739.2" y1="520.69" x2="734.2" y2="532.52" />
<line class="t" x1="737.5" y1="533.34" x2="737.5" y2="560.88" />
<line class="g" x1="736.5" y1="533.34" x2="736.5" y2="560.88" />
<circle class="t" cx="745.2" cy="533.34" r="0.9" />
<circle class="t" cx="745.2" cy="551.7" r="0.9" />
<path class="t" d="M736.2,537.01 L733.6,536.81 L732.6,541.09 L735,541.91 Z" style="fill:#ddd"/>
<line class="t" x1="733.8" y1="542.11" x2="732.6" y2="547.01" />
<line class="m" x1="658.6" y1="532.5" x2="734.2" y2="532.5" />
<line class="t" x1="658.6" y1="533.5" x2="734.2" y2="533.5" />
<line class="m" x1="659" y1="541.5" x2="737.2" y2="541.5" />
<line class="m" x1="659" y1="543.5" x2="737.2" y2="543.5" />
<circle class="K" cx="660.4" cy="522.12" r="4.4" />
<circle class="t" cx="660.4" cy="522.12" r="3.1" />
<line class="g" x1="657.5" y1="522.5" x2="663.3" y2="522.5" />
<line class="g" x1="660.5" y1="519.22" x2="660.5" y2="525.02" />
<line class="k" x1="659.5" y1="532.52" x2="659.5" y2="541.81" />
<line class="k" x1="661.5" y1="532.52" x2="661.5" y2="541.81" />
<circle class="K" cx="678" cy="522.12" r="4.4" />
<circle class="t" cx="678" cy="522.12" r="3.1" />
<line class="g" x1="675.1" y1="522.5" x2="680.9" y2="522.5" />
<line class="g" x1="678.5" y1="519.22" x2="678.5" y2="525.02" />
<line class="k" x1="676.5" y1="532.52" x2="676.5" y2="541.81" />
<line class="k" x1="679.5" y1="532.52" x2="679.5" y2="541.81" />
<circle class="K" cx="695.6" cy="522.12" r="4.4" />
<circle class="t" cx="695.6" cy="522.12" r="3.1" />
<line class="g" x1="692.7" y1="522.5" x2="698.5" y2="522.5" />
<line class="g" x1="695.5" y1="519.22" x2="695.5" y2="525.02" />
<line class="k" x1="694.5" y1="532.52" x2="694.5" y2="541.81" />
<line class="k" x1="696.5" y1="532.52" x2="696.5" y2="541.81" />
<circle class="K" cx="713.4" cy="522.12" r="4.4" />
<circle class="t" cx="713.4" cy="522.12" r="3.1" />
<line class="g" x1="710.5" y1="522.5" x2="716.3" y2="522.5" />
<line class="g" x1="713.5" y1="519.22" x2="713.5" y2="525.02" />
<line class="k" x1="712.5" y1="532.52" x2="712.5" y2="541.81" />
<line class="k" x1="714.5" y1="532.52" x2="714.5" y2="541.81" />
<circle class="K" cx="731" cy="522.12" r="4.4" />
<circle class="t" cx="731" cy="522.12" r="3.1" />
<line class="g" x1="728.1" y1="522.5" x2="733.9" y2="522.5" />
<line class="g" x1="731.5" y1="519.22" x2="731.5" y2="525.02" />
<line class="k" x1="729.5" y1="532.52" x2="729.5" y2="541.81" />
<line class="k" x1="732.5" y1="532.52" x2="732.5" y2="541.81" />
<path class="k" d="M668.1,532.93 L668.1,521.51 Q668.1,519.88 669.6,519.88 Q671.1,519.88 671.1,521.51 L671.1,532.93" />
<line class="K" x1="666" y1="533.5" x2="673.2" y2="533.5" />
<path class="k" d="M685.9,532.93 L685.9,521.51 Q685.9,519.88 687.4,519.88 Q688.9,519.88 688.9,521.51 L688.9,532.93" />
<line class="K" x1="683.8" y1="533.5" x2="691" y2="533.5" />
<path class="k" d="M703.5,532.93 L703.5,521.51 Q703.5,519.88 705,519.88 Q706.5,519.88 706.5,521.51 L706.5,532.93" />
<line class="K" x1="701.4" y1="533.5" x2="708.6" y2="533.5" />
<path class="k" d="M721.1,532.93 L721.1,521.51 Q721.1,519.88 722.6,519.88 Q724.1,519.88 724.1,521.51 L724.1,532.93" />
<line class="K" x1="719" y1="533.5" x2="726.2" y2="533.5" />
<line class="t" x1="711.5" y1="532.93" x2="711.5" y2="567.5" />
<line class="t" x1="713.5" y1="532.93" x2="713.5" y2="567.5" />
<rect class="t" x="724.5" y="532.5" width="3" height="35" rx="0" style="fill:#ccc"/>
<line class="k" x1="724.5" y1="532.93" x2="724.5" y2="567.5" />
<line class="k" x1="727.5" y1="532.93" x2="727.5" y2="567.5" />
<line class="k" x1="672" y1="544.5" x2="701" y2="544.5" />
<line class="g" x1="674" y1="545.5" x2="699" y2="545.5" />
<g transform="translate(0,1134) scale(1,-1)">
<path class="w" d="M648.4,567 L648.4,521.1 Q648.4,519.67 650.4,519.67 Q652.4,519.67 652.4,521.1 L652.4,561.49 Q652.8,563.94 655.6,564.35" />
<line class="m" x1="653.6" y1="520.69" x2="658.6" y2="532.52" />
<line class="t" x1="655.5" y1="533.34" x2="655.5" y2="560.88" />
<line class="g" x1="656.5" y1="533.34" x2="656.5" y2="560.88" />
<circle class="t" cx="647.6" cy="533.34" r="0.9" />
<circle class="t" cx="647.6" cy="551.7" r="0.9" />
<path class="t" d="M656.6,537.01 L659.2,536.81 L660.2,541.09 L657.8,541.91 Z" style="fill:#ddd"/>
<line class="t" x1="659" y1="542.11" x2="660.2" y2="547.01" />
<path class="w" d="M744.4,567 L744.4,521.1 Q744.4,519.67 742.4,519.67 Q740.4,519.67 740.4,521.1 L740.4,561.49 Q740,563.94 737.2,564.35" />
<line class="m" x1="739.2" y1="520.69" x2="734.2" y2="532.52" />
<line class="t" x1="737.5" y1="533.34" x2="737.5" y2="560.88" />
<line class="g" x1="736.5" y1="533.34" x2="736.5" y2="560.88" />
<circle class="t" cx="745.2" cy="533.34" r="0.9" />
<circle class="t" cx="745.2" cy="551.7" r="0.9" />
<path class="t" d="M736.2,537.01 L733.6,536.81 L732.6,541.09 L735,541.91 Z" style="fill:#ddd"/>
<line class="t" x1="733.8" y1="542.11" x2="732.6" y2="547.01" />
<line class="m" x1="658.6" y1="532.5" x2="734.2" y2="532.5" />
<line class="t" x1="658.6" y1="533.5" x2="734.2" y2="533.5" />
<line class="m" x1="659" y1="541.5" x2="737.2" y2="541.5" />
<line class="m" x1="659" y1="543.5" x2="737.2" y2="543.5" />
<circle class="K" cx="660.4" cy="522.12" r="4.4" />
<circle class="t" cx="660.4" cy="522.12" r="3.1" />
<line class="g" x1="657.5" y1="522.5" x2="663.3" y2="522.5" />
<line class="g" x1="660.5" y1="519.22" x2="660.5" y2="525.02" />
<line class="k" x1="659.5" y1="532.52" x2="659.5" y2="541.81" />
<line class="k" x1="661.5" y1="532.52" x2="661.5" y2="541.81" />
<circle class="K" cx="678" cy="522.12" r="4.4" />
<circle class="t" cx="678" cy="522.12" r="3.1" />
<line class="g" x1="675.1" y1="522.5" x2="680.9" y2="522.5" />
<line class="g" x1="678.5" y1="519.22" x2="678.5" y2="525.02" />
<line class="k" x1="676.5" y1="532.52" x2="676.5" y2="541.81" />
<line class="k" x1="679.5" y1="532.52" x2="679.5" y2="541.81" />
<circle class="K" cx="695.6" cy="522.12" r="4.4" />
<circle class="t" cx="695.6" cy="522.12" r="3.1" />
<line class="g" x1="692.7" y1="522.5" x2="698.5" y2="522.5" />
<line class="g" x1="695.5" y1="519.22" x2="695.5" y2="525.02" />
<line class="k" x1="694.5" y1="532.52" x2="694.5" y2="541.81" />
<line class="k" x1="696.5" y1="532.52" x2="696.5" y2="541.81" />
<circle class="K" cx="713.4" cy="522.12" r="4.4" />
<circle class="t" cx="713.4" cy="522.12" r="3.1" />
<line class="g" x1="710.5" y1="522.5" x2="716.3" y2="522.5" />
<line class="g" x1="713.5" y1="519.22" x2="713.5" y2="525.02" />
<line class="k" x1="712.5" y1="532.52" x2="712.5" y2="541.81" />
<line class="k" x1="714.5" y1="532.52" x2="714.5" y2="541.81" />
<circle class="K" cx="731" cy="522.12" r="4.4" />
<circle class="t" cx="731" cy="522.12" r="3.1" />
<line class="g" x1="728.1" y1="522.5" x2="733.9" y2="522.5" />
<line class="g" x1="731.5" y1="519.22" x2="731.5" y2="525.02" />
<line class="k" x1="729.5" y1="532.52" x2="729.5" y2="541.81" />
<line class="k" x1="732.5" y1="532.52" x2="732.5" y2="541.81" />
<path class="k" d="M668.1,532.93 L668.1,521.51 Q668.1,519.88 669.6,519.88 Q671.1,519.88 671.1,521.51 L671.1,532.93" />
<line class="K" x1="666" y1="533.5" x2="673.2" y2="533.5" />
<path class="k" d="M685.9,532.93 L685.9,521.51 Q685.9,519.88 687.4,519.88 Q688.9,519.88 688.9,521.51 L688.9,532.93" />
<line class="K" x1="683.8" y1="533.5" x2="691" y2="533.5" />
<path class="k" d="M703.5,532.93 L703.5,521.51 Q703.5,519.88 705,519.88 Q706.5,519.88 706.5,521.51 L706.5,532.93" />
<line class="K" x1="701.4" y1="533.5" x2="708.6" y2="533.5" />
<path class="k" d="M721.1,532.93 L721.1,521.51 Q721.1,519.88 722.6,519.88 Q724.1,519.88 724.1,521.51 L724.1,532.93" />
<line class="K" x1="719" y1="533.5" x2="726.2" y2="533.5" />
<line class="t" x1="711.5" y1="532.93" x2="711.5" y2="567.5" />
<line class="t" x1="713.5" y1="532.93" x2="713.5" y2="567.5" />
<rect class="t" x="724.5" y="532.5" width="3" height="35" rx="0" style="fill:#ccc"/>
<line class="k" x1="724.5" y1="532.93" x2="724.5" y2="567.5" />
<line class="k" x1="727.5" y1="532.93" x2="727.5" y2="567.5" />
<line class="k" x1="672" y1="544.5" x2="701" y2="544.5" />
<line class="g" x1="674" y1="545.5" x2="699" y2="545.5" />
</g>
<rect class="m" x="662.5" y="547.5" width="49" height="40" rx="4" />
<line class="k" x1="669.6" y1="553.5" x2="703" y2="553.5" />
<line class="k" x1="669.6" y1="580.5" x2="703" y2="580.5" />
<line class="k" x1="669.5" y1="554.55" x2="669.5" y2="579.86" />
<line class="k" x1="703.5" y1="554.55" x2="703.5" y2="579.86" />
<line class="t" x1="670" y1="549.5" x2="703" y2="549.5" />
<line class="t" x1="670" y1="584.5" x2="703" y2="584.5" />
<circle class="k" cx="666" cy="551.4" r="2.9" />
<circle class="m" cx="666" cy="551.4" r="1.35" />
<path class="k" d="M670.7,549.9 A4.7,4.7 0 0 1 664.5,556.1" />
<circle class="k" cx="706.6" cy="551.4" r="2.9" />
<circle class="m" cx="706.6" cy="551.4" r="1.35" />
<path class="k" d="M701.9,549.9 A4.7,4.7 0 0 0 708.1,556.1" />
<circle class="k" cx="666" cy="582.6" r="2.9" />
<circle class="m" cx="666" cy="582.6" r="1.35" />
<path class="k" d="M670.7,584.1 A4.7,4.7 0 0 0 664.5,577.9" />
<circle class="k" cx="706.6" cy="582.6" r="2.9" />
<circle class="m" cx="706.6" cy="582.6" r="1.35" />
<path class="k" d="M701.9,584.1 A4.7,4.7 0 0 1 708.1,577.9" />
<line class="c" x1="695.5" y1="526" x2="695.5" y2="608" />
<circle class="bf" cx="653.4" cy="567" r="1.4" />
<rect class="t" x="657.5" y="564.5" width="4" height="5" rx="0" style="fill:#ddd"/>
<path class="k" d="M652,562 Q656,564 656,567 Q656,570 652,572" />
<circle class="bf" cx="739.4" cy="567" r="1.4" />
<rect class="k" x="711.5" y="565.5" width="25" height="3" rx="0" style="fill:#d4d4d4"/>
<path class="k" d="M740.8,562 Q736.8,564 736.8,567 Q736.8,570 740.8,572" />
<line class="t" x1="702.5" y1="565.1" x2="702.5" y2="568.9" />
<line class="d" x1="660.4" y1="506.5" x2="678" y2="506.5" />
<path class="af" d="M660.4,506.5 L665,505.65 L665,507.35 Z"/>
<path class="af" d="M678,506.5 L673.4,507.35 L673.4,505.65 Z"/>
<text class="tx" transform="translate(669.2,500.6) scale(0.58,1)" font-size="10.5" text-anchor="middle" dominant-baseline="central">A</text>
<line class="d" x1="678" y1="506.5" x2="695.6" y2="506.5" />
<path class="af" d="M678,506.5 L682.6,505.65 L682.6,507.35 Z"/>
<path class="af" d="M695.6,506.5 L691,507.35 L691,505.65 Z"/>
<text class="tx" transform="translate(686.8,500.6) scale(0.58,1)" font-size="10.5" text-anchor="middle" dominant-baseline="central">A</text>
<line class="d" x1="695.6" y1="506.5" x2="713.4" y2="506.5" />
<path class="af" d="M695.6,506.5 L700.2,505.65 L700.2,507.35 Z"/>
<path class="af" d="M713.4,506.5 L708.8,507.35 L708.8,505.65 Z"/>
<text class="tx" transform="translate(704.5,500.6) scale(0.58,1)" font-size="10.5" text-anchor="middle" dominant-baseline="central">A</text>
<line class="d" x1="713.4" y1="506.5" x2="731" y2="506.5" />
<path class="af" d="M713.4,506.5 L718,505.65 L718,507.35 Z"/>
<path class="af" d="M731,506.5 L726.4,507.35 L726.4,505.65 Z"/>
<text class="tx" transform="translate(722.2,500.6) scale(0.58,1)" font-size="10.5" text-anchor="middle" dominant-baseline="central">A</text>
<line class="d" x1="660.5" y1="504.8" x2="660.5" y2="518" />
<line class="d" x1="678.5" y1="504.8" x2="678.5" y2="518" />
<line class="d" x1="695.5" y1="504.8" x2="695.5" y2="518" />
<line class="d" x1="713.5" y1="504.8" x2="713.5" y2="518" />
<line class="d" x1="731.5" y1="504.8" x2="731.5" y2="518" />
<text class="tx" transform="translate(640.4,501.2) scale(0.58,1)" font-size="12.5" text-anchor="middle" dominant-baseline="central">ØG</text>
<line class="d" x1="635.6" y1="506.5" x2="650" y2="506.5" />
<line class="k" x1="650" y1="506" x2="665" y2="528" />
<path class="af" d="M665,528 L661.72,524.66 L663.13,523.71 Z"/>
<line class="d" x1="603" y1="521.5" x2="620.4" y2="521.5" />
<line class="d" x1="603" y1="611.5" x2="620.4" y2="611.5" />
<line class="d" x1="605.5" y1="521.6" x2="605.5" y2="611.8" />
<path class="af" d="M605.5,521.6 L606.35,526.2 L604.65,526.2 Z"/>
<path class="af" d="M605.5,611.8 L604.65,607.2 L606.35,607.2 Z"/>
<text class="tx" transform="translate(599.4,567) rotate(-90) scale(0.58,1)" font-size="12.5" text-anchor="middle" dominant-baseline="central">ØN</text>
<line class="d" x1="772" y1="522.5" x2="789.6" y2="522.5" />
<line class="d" x1="772" y1="611.5" x2="789.6" y2="611.5" />
<line class="d" x1="787.5" y1="522" x2="787.5" y2="611.6" />
<path class="af" d="M787.5,522 L788.35,526.6 L786.65,526.6 Z"/>
<path class="af" d="M787.5,611.6 L786.65,607 L788.35,607 Z"/>
<text class="tx" transform="translate(782.6,566.6) rotate(-90) scale(0.58,1)" font-size="12.5" text-anchor="middle" dominant-baseline="central">B</text>
<line class="d" x1="620.5" y1="612.6" x2="620.5" y2="651" />
<line class="d" x1="771.5" y1="612.6" x2="771.5" y2="651" />
<line class="d" x1="649.5" y1="620.6" x2="649.5" y2="637" />
<line class="d" x1="742.5" y1="620.6" x2="742.5" y2="637" />
<line class="d" x1="620.4" y1="635.5" x2="649.6" y2="635.5" />
<path class="af" d="M620.4,635.5 L625,634.65 L625,636.35 Z"/>
<path class="af" d="M649.6,635.5 L645,636.35 L645,634.65 Z"/>
<text class="tx" transform="translate(637.6,629.8) scale(0.46,1)" font-size="12.5" text-anchor="middle" dominant-baseline="central">M</text>
<line class="d" x1="649.6" y1="635.5" x2="742.6" y2="635.5" />
<path class="af" d="M649.6,635.5 L654.2,634.65 L654.2,636.35 Z"/>
<path class="af" d="M742.6,635.5 L738,636.35 L738,634.65 Z"/>
<text class="tx" transform="translate(697.6,629.4) scale(0.58,1)" font-size="12.5" text-anchor="middle" dominant-baseline="central">L</text>
<line class="d" x1="620.4" y1="649.5" x2="771.6" y2="649.5" />
<path class="af" d="M620.4,649.5 L625,648.65 L625,650.35 Z"/>
<path class="af" d="M771.6,649.5 L767,650.35 L767,648.65 Z"/>
<text class="tx" transform="translate(694.6,643.8) scale(0.58,1)" font-size="12.5" text-anchor="middle" dominant-baseline="central">C</text>
</g>
</g>
</svg>
</body></html>
